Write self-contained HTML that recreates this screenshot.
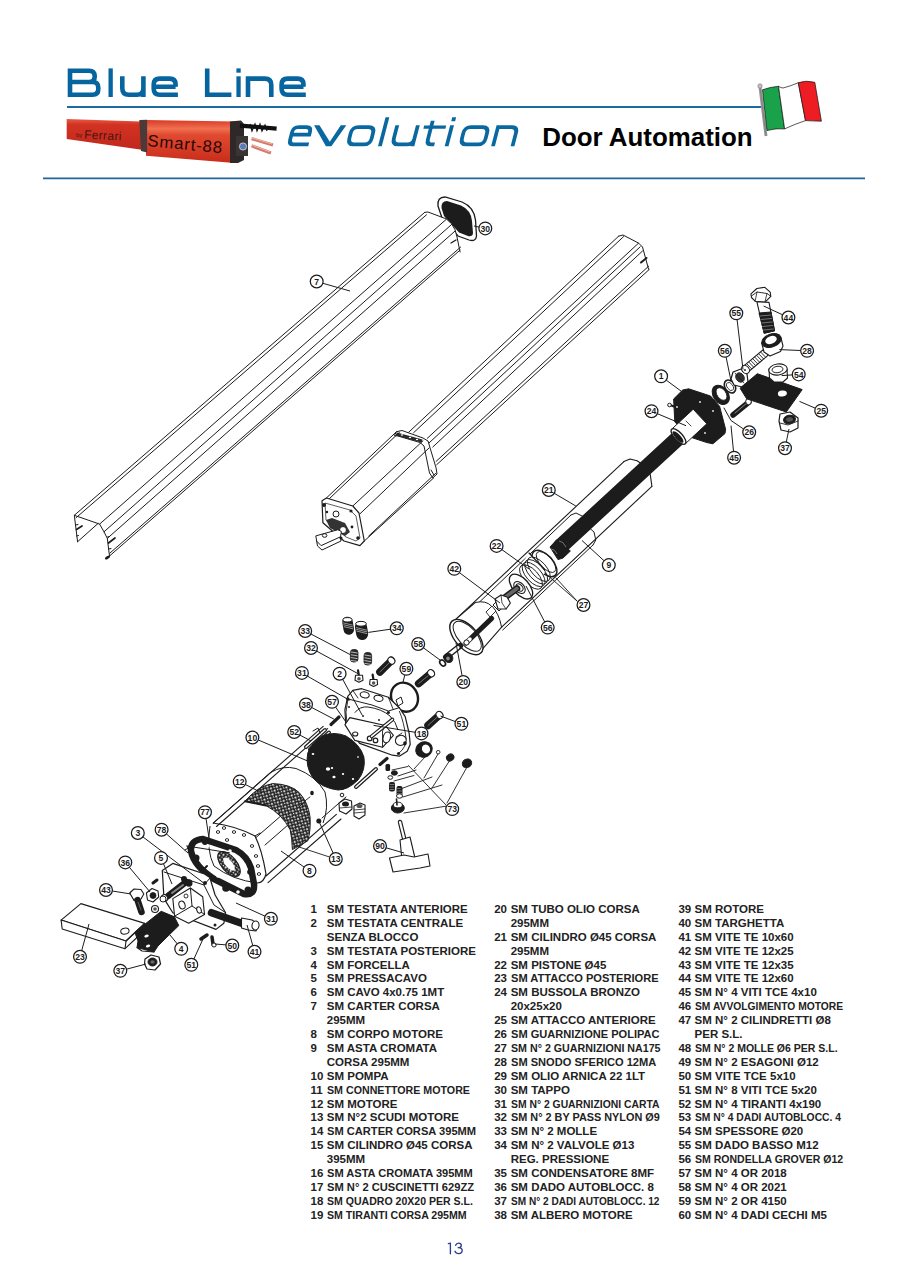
<!DOCTYPE html>
<html><head><meta charset="utf-8">
<style>
html,body{margin:0;padding:0;background:#fff;}
body{width:909px;height:1286px;position:relative;overflow:hidden;font-family:"Liberation Sans",sans-serif;}
.a{position:absolute;}
.n,.t{position:absolute;font-weight:bold;font-size:11.5px;line-height:14px;color:#222;white-space:pre;}
.t span{display:inline-block;transform-origin:0 50%;}
svg{position:absolute;left:0;top:0;}
svg text{font-family:"Liberation Sans",sans-serif;fill:#1c1c1c;}
</style></head><body>
<svg width="909" height="1286" viewBox="0 0 909 1286">

<g fill="none" stroke="#06659e" stroke-width="4.6" stroke-linejoin="miter" stroke-linecap="butt">
<path d="M70,70.7 H89 Q94.7,70.7 94.7,76.2 V76.5 Q94.7,82 89,82 H92.6 Q98.3,82 98.3,87.7 V89 Q98.3,94.7 92.6,94.7 H70 Z M70,82 H89"/>
<path d="M110.65,68.4 V97" stroke-width="4.3"/>
<path d="M122.3,76.3 V88.2 Q122.3,94.7 128.8,94.7 H136.9 Q143.4,94.7 143.4,88.2 M143.4,76.3 V97"/>
<path d="M175.6,86.7 H153.7 M175.6,86.7 V84.4 Q175.6,78.6 169.6,78.6 H159.7 Q153.7,78.6 153.7,84.6 V88.7 Q153.7,94.7 159.7,94.7 H177.9"/>
<path d="M207.2,68.4 V94.7 H231.4"/>
<path d="M238.55,76.3 V97" stroke-width="4.3"/>
<path d="M248,97 V78.6 H264.8 Q271.3,78.6 271.3,85.1 V97"/>
<path d="M 303.5,86.7 H 281.6 M 303.5,86.7 V 84.4 Q 303.5,78.6 297.5,78.6 H 287.6 Q 281.6,78.6 281.6,84.6 V 88.7 Q 281.6,94.7 287.6,94.7 H 305.8"/>
</g>
<rect x="236.4" y="68.4" width="4.3" height="4.3" fill="#06659e"/>
<line x1="67" y1="107" x2="762" y2="107" stroke="#1d6aa0" stroke-width="1.8"/>
<g transform="matrix(1,0,-0.26,1,38.04,0)" fill="none" stroke="#0a68a0" stroke-width="3.8" stroke-linejoin="miter" stroke-linecap="butt">
<path d="M306.3,134.7 H288.4 M306.3,136.6 V132.1 Q306.3,127.1 301.3,127.1 H293.4 Q288.4,127.1 288.4,132.1 V139.4 Q288.4,144.4 293.4,144.4 H308.2" />
<polygon points="308.6,125.2 314,125.2 328.6,141.8 335.3,125.2 340.8,125.2 331.4,146.3 325.9,146.3" fill="#0a68a0" stroke="none"/>
<path d="M353.3,127.1 H363.6 Q369.6,127.1 369.6,133.1 V138.4 Q369.6,144.4 363.6,144.4 H353.3 Q347.3,144.4 347.3,138.4 V133.1 Q347.3,127.1 353.3,127.1 Z"/>
<path d="M379.9,117.3 V146.3"/>
<path d="M391.8,125.2 V138.4 Q391.8,144.4 397.8,144.4 H406.4 Q412.4,144.4 412.4,138.4 M412.4,125.2 V146.3"/>
<path d="M426.1,120.8 V139.4 Q426.1,144.4 431.1,144.4 H434"/>
<path d="M418.8,127.15 H440.8" stroke-width="3.1"/>
<path d="M446.6,125.2 V146.3"/>
<rect x="444.7" y="117.3" width="3.9" height="3.9" fill="#0a68a0" stroke="none"/>
<path d="M465.9,127.1 H477.6 Q483.6,127.1 483.6,133.1 V138.4 Q483.6,144.4 477.6,144.4 H465.9 Q459.9,144.4 459.9,138.4 V133.1 Q459.9,127.1 465.9,127.1 Z"/>
<path d="M493,146.3 V127.1 H506.5 Q512.5,127.1 512.5,133.1 V146.3"/>
</g>
<text x="542.2" y="145.8" font-size="25.9" font-weight="bold" style="fill:#000">Door Automation</text>
<line x1="43" y1="178.4" x2="865" y2="178.4" stroke="#1f679a" stroke-width="1.6"/>
<!-- product photo -->
<defs>
<linearGradient id="rg1" x1="0" y1="0" x2="0" y2="1"><stop offset="0" stop-color="#e85a48"/><stop offset="0.18" stop-color="#d23222"/><stop offset="1" stop-color="#c0281c"/></linearGradient>
<linearGradient id="rg2" x1="0" y1="0" x2="0" y2="1"><stop offset="0" stop-color="#d83a26"/><stop offset="0.2" stop-color="#f07050"/><stop offset="0.35" stop-color="#e04a30"/><stop offset="1" stop-color="#c82c1a"/></linearGradient>
</defs>
<polygon points="66.7,119.1 141.1,121.5 143.5,150 66.7,139" fill="url(#rg1)"/>
<polygon points="146,120 234.4,121.4 234.4,163 146,155.8" fill="url(#rg2)"/>
<polygon points="139.3,120 147.1,119.7 147.1,152.4 141,151" fill="#4a3a3a"/>
<polygon points="230,121.4 241,120.5 244,124 244,160 238,163 230,163" fill="#2e2828"/>
<rect x="236" y="136" width="12" height="20" fill="#3a3434"/>
<circle cx="243" cy="146.5" r="3.6" fill="#5a7ab8" stroke="#ddd" stroke-width="0.8"/>
<text x="84" y="138.5" font-size="12" style="fill:#4a1410;font-family:'Liberation Sans';letter-spacing:0.3px" transform="rotate(3 84 138.5)">Ferrari</text>
<text x="76" y="137" font-size="6" style="fill:#4a1410">by</text>
<text x="147" y="146" font-size="16.5" style="fill:#2a0806;letter-spacing:0.8px" transform="rotate(5.5 147 146) translate(147 0) scale(1.02 1) translate(-147 0)">Smart-88</text>
<polyline points="240,125.7 258,127 276.6,128.6" fill="none" stroke="#111" stroke-width="4.2"/>
<polyline points="250,124 252,131 255,124 257,131 260,124 262,131 265,125 267,131" fill="none" stroke="#111" stroke-width="1.2"/>
<line x1="251.6" y1="138.6" x2="273" y2="145" stroke="#d4786a" stroke-width="3.2"/>
<line x1="251.6" y1="145.8" x2="270.9" y2="153" stroke="#d4786a" stroke-width="3.2"/>
<line x1="252" y1="138" x2="272" y2="144" stroke="#f0c0b0" stroke-width="0.9"/>
<line x1="252" y1="145.2" x2="270" y2="152" stroke="#f0c0b0" stroke-width="0.9"/>
<!-- flag -->
<line x1="760" y1="87" x2="766" y2="136" stroke="#9a9a9a" stroke-width="3"/>
<line x1="760" y1="87" x2="766" y2="136" stroke="#666" stroke-width="0.5" stroke-dasharray="0"/>
<circle cx="760" cy="86" r="2.2" fill="#c0c0c0" stroke="#777" stroke-width="0.6"/>
<path d="M762.5,89.8 Q770,87 778.5,86.3 L784.6,128.9 Q776,128 767,130.5 Z" fill="#1aa24a" stroke="#111" stroke-width="0.7"/>
<path d="M778.5,86.3 Q781,88 783,88 Q791,86 798.3,82.7 L805.5,120.6 Q795,124 784.6,128.9 Z" fill="#fff" stroke="#111" stroke-width="0.7"/>
<path d="M798.3,82.7 Q806,80 814.8,82.3 L821.4,121.2 Q812,121 805.5,120.6 Z" fill="#ee1d24" stroke="#111" stroke-width="0.7"/>

<g>
<path d="M438,206 Q437,197 445,197 L462,202 Q474,207 475.5,220 L476.5,236 Q476,242 469,240 L458,236 L442,218 Z" fill="#fff" stroke="#1c1c1c" stroke-width="1.3"/>
<path d="M441.5,208 Q441,201 447,201 L461,205.5 Q471,210 472,221 L473,233 Q472.5,237 468,236 L459,232.5 L444,216 Z" fill="#1c1c1c" stroke="none"/>
<polygon points="424.8,212.8 428.0,212.3 446.3,218.9 451.6,223.8 455.1,229.9 457.0,237.0 459.5,249.3 460.0,253.0 420.0,290.0 380.0,280.0" fill="#fff" stroke="none" stroke-width="1.0" stroke-linejoin="round"/>
<polyline points="74.3,515.3 424.7,212.4" fill="none" stroke="#1c1c1c" stroke-width="1.0" stroke-linejoin="round" stroke-linecap="round"/>
<polyline points="76.1,517.7 426.5,214.8" fill="none" stroke="#1c1c1c" stroke-width="1.0" stroke-linejoin="round" stroke-linecap="round"/>
<polyline points="99.6,524.1 446.3,219.3" fill="none" stroke="#1c1c1c" stroke-width="1.0" stroke-linejoin="round" stroke-linecap="round"/>
<polyline points="104.0,531.8 451.6,224.5" fill="none" stroke="#1c1c1c" stroke-width="1.0" stroke-linejoin="round" stroke-linecap="round"/>
<polyline points="107.3,538.4 455.1,231.0" fill="none" stroke="#1c1c1c" stroke-width="1.0" stroke-linejoin="round" stroke-linecap="round"/>
<polyline points="109.5,556.0 460.1,250.1" fill="none" stroke="#1c1c1c" stroke-width="1.0" stroke-linejoin="round" stroke-linecap="round"/>
<polyline points="110.0,553.0 460.6,247.1" fill="none" stroke="#1c1c1c" stroke-width="1.0" stroke-linejoin="round" stroke-linecap="round"/>
<polyline points="77.6,541.7 74.3,515.3 99.6,524.1 104.0,531.8 107.3,538.4 109.5,556.0" fill="none" stroke="#1c1c1c" stroke-width="1.0" stroke-linejoin="round" stroke-linecap="round"/>
<polyline points="77.6,541.7 98.0,523.5" fill="none" stroke="#1c1c1c" stroke-width="1.0" stroke-linejoin="round" stroke-linecap="round"/>
<polyline points="76.5,529.5 82.0,526.0" fill="none" stroke="#1c1c1c" stroke-width="1.7" stroke-linejoin="round" stroke-linecap="round"/>
<polyline points="75.5,525.0 78.0,524.5" fill="none" stroke="#1c1c1c" stroke-width="1" stroke-linejoin="round" stroke-linecap="round"/>
<polyline points="76.5,536.0 78.5,535.5" fill="none" stroke="#1c1c1c" stroke-width="1" stroke-linejoin="round" stroke-linecap="round"/>
<polyline points="108.5,543.0 115.0,538.0" fill="none" stroke="#1c1c1c" stroke-width="1.7" stroke-linejoin="round" stroke-linecap="round"/>
<polyline points="107.5,537.0 109.5,536.5" fill="none" stroke="#1c1c1c" stroke-width="1" stroke-linejoin="round" stroke-linecap="round"/>
<polyline points="108.5,549.0 111.0,548.5" fill="none" stroke="#1c1c1c" stroke-width="1" stroke-linejoin="round" stroke-linecap="round"/>
<ellipse cx="107.5" cy="557.5" rx="3.0" ry="1.3" transform="rotate(-30 107.5 557.5)" fill="#1c1c1c" stroke="none" stroke-width="1.0"/>
<polyline points="424.7,212.4 428.0,212.0 446.3,218.9 451.6,223.8 455.1,229.9 457.0,237.0 459.5,249.3 460.1,252.0" fill="none" stroke="#1c1c1c" stroke-width="1.0" stroke-linejoin="round" stroke-linecap="round"/>
<polyline points="451.0,243.0 456.0,240.0" fill="none" stroke="#1c1c1c" stroke-width="1.4" stroke-linejoin="round" stroke-linecap="round"/>
<polyline points="618.6,236.2 408.6,432.3" fill="none" stroke="#1c1c1c" stroke-width="1.0" stroke-linejoin="round" stroke-linecap="round"/>
<polyline points="623.6,236.6 413.6,432.7" fill="none" stroke="#1c1c1c" stroke-width="1.0" stroke-linejoin="round" stroke-linecap="round"/>
<polyline points="638.6,243.1 427.3,438.3" fill="none" stroke="#1c1c1c" stroke-width="1.0" stroke-linejoin="round" stroke-linecap="round"/>
<polyline points="640.2,246.8 429.0,443.0" fill="none" stroke="#1c1c1c" stroke-width="1.0" stroke-linejoin="round" stroke-linecap="round"/>
<polyline points="642.5,251.0 432.8,447.0" fill="none" stroke="#1c1c1c" stroke-width="1.0" stroke-linejoin="round" stroke-linecap="round"/>
<polyline points="648.6,266.2 436.1,461.4" fill="none" stroke="#1c1c1c" stroke-width="1.0" stroke-linejoin="round" stroke-linecap="round"/>
<polyline points="649.2,269.5 436.7,464.7" fill="none" stroke="#1c1c1c" stroke-width="1.0" stroke-linejoin="round" stroke-linecap="round"/>
<polyline points="618.6,236.2 623.0,235.0 638.6,243.1 642.5,247.0 648.6,269.3" fill="none" stroke="#1c1c1c" stroke-width="1.0" stroke-linejoin="round" stroke-linecap="round"/>
<polyline points="641.0,262.5 646.5,258.0" fill="none" stroke="#1c1c1c" stroke-width="2" stroke-linejoin="round" stroke-linecap="round"/>
<polygon points="396.5,431.7 402.0,430.5 423.0,438.0 428.0,441.0 436.1,468.0 437.0,474.0 432.8,477.9 429.5,473.0 424.0,446.0 420.0,442.5 398.0,436.0 394.3,435.6" fill="#fff" stroke="#1c1c1c" stroke-width="1.0" stroke-linejoin="round"/>
<polygon points="397.0,432.5 422.5,439.5 421.5,442.6 395.5,435.5" fill="#2a2a2a" stroke="none" stroke-width="1.0" stroke-linejoin="round"/>
<ellipse cx="402.0" cy="435.0" rx="1.2" ry="0.8" transform="rotate(0 402.0 435.0)" fill="#fff" stroke="none" stroke-width="1.0"/>
<ellipse cx="410.0" cy="437.5" rx="1.2" ry="0.8" transform="rotate(0 410.0 437.5)" fill="#fff" stroke="none" stroke-width="1.0"/>
<ellipse cx="417.0" cy="439.5" rx="1.2" ry="0.8" transform="rotate(0 417.0 439.5)" fill="#fff" stroke="none" stroke-width="1.0"/>
<polyline points="431.0,470.0 434.0,475.0" fill="none" stroke="#1c1c1c" stroke-width="1.0" stroke-linejoin="round" stroke-linecap="round"/>
<polyline points="326.4,498.0 396.5,431.7" fill="none" stroke="#1c1c1c" stroke-width="1.0" stroke-linejoin="round" stroke-linecap="round"/>
<polyline points="329.4,498.6 399.5,432.3" fill="none" stroke="#1c1c1c" stroke-width="1.0" stroke-linejoin="round" stroke-linecap="round"/>
<polyline points="352.8,506.0 423.0,440.8" fill="none" stroke="#1c1c1c" stroke-width="1.0" stroke-linejoin="round" stroke-linecap="round"/>
<polyline points="359.9,513.9 429.0,448.0" fill="none" stroke="#1c1c1c" stroke-width="1.0" stroke-linejoin="round" stroke-linecap="round"/>
<polyline points="364.3,541.0 433.8,477.8" fill="none" stroke="#1c1c1c" stroke-width="1.0" stroke-linejoin="round" stroke-linecap="round"/>
<polyline points="368.7,536.0 435.6,473.4" fill="none" stroke="#1c1c1c" stroke-width="1.0" stroke-linejoin="round" stroke-linecap="round"/>
<polygon points="322.0,500.7 326.4,498.0 352.8,506.0 359.0,513.0 364.3,541.0 359.9,545.6 344.0,541.0 322.9,522.7" fill="#fff" stroke="#1c1c1c" stroke-width="1.2" stroke-linejoin="round"/>
<polygon points="325.0,503.0 350.0,510.0 356.0,516.0 360.0,538.0 356.0,541.0 346.0,537.0 326.0,520.0" fill="#fff" stroke="#333" stroke-width="0.8" stroke-linejoin="round"/>
<ellipse cx="336.0" cy="514.0" rx="3.0" ry="3.0" transform="rotate(0 336.0 514.0)" fill="#fff" stroke="#1c1c1c" stroke-width="1.0"/>
<polygon points="326.0,520.0 332.0,518.0 345.0,523.0 350.0,532.0 345.0,536.0 330.0,528.0" fill="#333" stroke="none" stroke-width="1.0" stroke-linejoin="round"/>
<ellipse cx="324.0" cy="505.0" rx="2.0" ry="2.0" transform="rotate(0 324.0 505.0)" fill="#1c1c1c" stroke="none" stroke-width="1.0"/>
<ellipse cx="351.0" cy="511.0" rx="1.6" ry="1.6" transform="rotate(0 351.0 511.0)" fill="#1c1c1c" stroke="none" stroke-width="1.0"/>
<ellipse cx="358.0" cy="538.0" rx="1.8" ry="1.8" transform="rotate(0 358.0 538.0)" fill="#1c1c1c" stroke="none" stroke-width="1.0"/>
<ellipse cx="341.0" cy="538.0" rx="1.5" ry="1.5" transform="rotate(0 341.0 538.0)" fill="#1c1c1c" stroke="none" stroke-width="1.0"/>
<ellipse cx="327.0" cy="512.0" rx="1.2" ry="1.2" transform="rotate(0 327.0 512.0)" fill="#1c1c1c" stroke="none" stroke-width="1.0"/>
<ellipse cx="352.0" cy="527.0" rx="1.4" ry="1.4" transform="rotate(0 352.0 527.0)" fill="#1c1c1c" stroke="none" stroke-width="1.0"/>
<ellipse cx="343.0" cy="530.0" rx="3.5" ry="3.5" transform="rotate(0 343.0 530.0)" fill="#fff" stroke="#1c1c1c" stroke-width="1.0"/>
<polygon points="316.7,541.2 315.8,535.9 337.9,529.7 341.4,531.5 340.5,536.8 321.1,545.6" fill="#fff" stroke="#1c1c1c" stroke-width="1.0" stroke-linejoin="round"/>
<polyline points="316.7,541.2 317.5,546.0 322.0,550.0 341.0,541.0 340.5,536.8" fill="none" stroke="#1c1c1c" stroke-width="1.0" stroke-linejoin="round" stroke-linecap="round"/>
<ellipse cx="324.6" cy="535.5" rx="2.3" ry="1.8" transform="rotate(0 324.6 535.5)" fill="#fff" stroke="#1c1c1c" stroke-width="1.0"/>
<polyline points="454.3,620.6 623.9,461.6" fill="none" stroke="#1c1c1c" stroke-width="1.1" stroke-linejoin="round" stroke-linecap="round"/>
<polyline points="623.9,461.6 630.0,459.0 637.0,460.7 645.0,466.0 650.3,474.8 651.9,486.3" fill="none" stroke="#1c1c1c" stroke-width="1.1" stroke-linejoin="round" stroke-linecap="round"/>
<polyline points="651.9,486.3 501.6,627.2" fill="none" stroke="#1c1c1c" stroke-width="1.1" stroke-linejoin="round" stroke-linecap="round"/>
<polyline points="479.6,601.9 571.0,515.0" fill="none" stroke="#1c1c1c" stroke-width="1.0" stroke-linejoin="round" stroke-linecap="round"/>
<polyline points="502.7,630.0 593.0,545.0" fill="none" stroke="#1c1c1c" stroke-width="1.0" stroke-linejoin="round" stroke-linecap="round"/>
<polyline points="571.0,515.0 576.0,513.0 584.0,517.0" fill="none" stroke="#1c1c1c" stroke-width="1.0" stroke-linejoin="round" stroke-linecap="round"/>
<polyline points="589.0,527.6 594.0,532.0 595.8,540.0 593.0,545.0" fill="none" stroke="#1c1c1c" stroke-width="1.0" stroke-linejoin="round" stroke-linecap="round"/>
<polygon points="454.3,620.6 475.2,602.5 482.0,602.0 491.7,606.3 500.5,621.7 501.6,627.2 482.4,649.2" fill="#fff" stroke="none" stroke-width="1.0" stroke-linejoin="round"/>
<polyline points="454.3,620.6 475.2,602.5" fill="none" stroke="#1c1c1c" stroke-width="1.1" stroke-linejoin="round" stroke-linecap="round"/>
<path d="M475.2,602.5 Q486,600 491.7,606.3 Q499,613 501.6,627.2" fill="none" stroke="#1c1c1c" stroke-width="1.0"/>
<polyline points="482.4,649.2 501.6,627.2" fill="none" stroke="#1c1c1c" stroke-width="1.1" stroke-linejoin="round" stroke-linecap="round"/>
<ellipse cx="466.4" cy="637.1" rx="21.5" ry="11.2" transform="rotate(48 466.4 637.1)" fill="#fff" stroke="#1c1c1c" stroke-width="1.4"/>
<ellipse cx="467.2" cy="636.3" rx="18.5" ry="9.0" transform="rotate(48 467.2 636.3)" fill="#fff" stroke="#1c1c1c" stroke-width="1.0"/>
<polyline points="466.0,643.0 491.7,618.4" fill="none" stroke="#1c1c1c" stroke-width="5" stroke-linejoin="round" stroke-linecap="round"/>
<polyline points="466.0,643.0 470.0,639.0" fill="none" stroke="#fff" stroke-width="3.5" stroke-linejoin="round" stroke-linecap="round"/>
<polygon points="486.0,612.0 492.0,606.0 496.0,611.0 490.0,617.0" fill="#fff" stroke="#1c1c1c" stroke-width="0.9" stroke-linejoin="round"/>
<polygon points="493.0,605.0 497.0,601.0 503.0,607.0 499.0,611.0" fill="#fff" stroke="#1c1c1c" stroke-width="1.0" stroke-linejoin="round"/>
<ellipse cx="466.5" cy="642.5" rx="2.6" ry="2.6" transform="rotate(0 466.5 642.5)" fill="#fff" stroke="#1c1c1c" stroke-width="1.0"/>
<polyline points="446.0,657.0 460.0,646.0" fill="none" stroke="#1c1c1c" stroke-width="6" stroke-linejoin="round" stroke-linecap="round"/>
<polyline points="448.0,655.5 458.0,647.5" fill="none" stroke="#fff" stroke-width="3" stroke-linejoin="round" stroke-linecap="round"/>
<ellipse cx="448.5" cy="658.0" rx="4.2" ry="4.6" transform="rotate(-40 448.5 658.0)" fill="#1c1c1c" stroke="#1c1c1c" stroke-width="1"/>
<ellipse cx="448.0" cy="658.5" rx="1.8" ry="2.0" transform="rotate(0 448.0 658.5)" fill="#888" stroke="none" stroke-width="1.0"/>
<ellipse cx="442.6" cy="663.0" rx="2.4" ry="3.4" transform="rotate(-40 442.6 663.0)" fill="none" stroke="#1c1c1c" stroke-width="1.6"/>
<ellipse cx="544.5" cy="563.5" rx="16.0" ry="8.5" transform="rotate(48 544.5 563.5)" fill="#fff" stroke="#1c1c1c" stroke-width="1.4"/>
<ellipse cx="546.0" cy="562.0" rx="13.0" ry="6.0" transform="rotate(48 546.0 562.0)" fill="none" stroke="#1c1c1c" stroke-width="0.9"/>
<polygon points="529.0,553.0 545.0,572.0 530.0,597.0 511.0,580.0" fill="#fff" stroke="none" stroke-width="1.0" stroke-linejoin="round"/>
<polyline points="529.0,553.0 545.0,570.0" fill="none" stroke="#1c1c1c" stroke-width="1.1" stroke-linejoin="round" stroke-linecap="round"/>
<polyline points="511.0,579.0 527.0,596.0" fill="none" stroke="#1c1c1c" stroke-width="1.1" stroke-linejoin="round" stroke-linecap="round"/>
<ellipse cx="531.0" cy="577.0" rx="15.0" ry="7.5" transform="rotate(48 531.0 577.0)" fill="none" stroke="#1c1c1c" stroke-width="0.9"/>
<ellipse cx="533.6" cy="574.4" rx="15.0" ry="7.5" transform="rotate(48 533.6 574.4)" fill="none" stroke="#1c1c1c" stroke-width="0.9"/>
<ellipse cx="536.2" cy="571.8" rx="15.0" ry="7.5" transform="rotate(48 536.2 571.8)" fill="none" stroke="#1c1c1c" stroke-width="0.9"/>
<ellipse cx="538.8" cy="569.2" rx="15.0" ry="7.5" transform="rotate(48 538.8 569.2)" fill="none" stroke="#1c1c1c" stroke-width="0.9"/>
<ellipse cx="521.0" cy="586.6" rx="15.0" ry="8.0" transform="rotate(48 521.0 586.6)" fill="#fff" stroke="#1c1c1c" stroke-width="1.3"/>
<ellipse cx="519.5" cy="587.5" rx="7.0" ry="4.5" transform="rotate(48 519.5 587.5)" fill="#fff" stroke="#1c1c1c" stroke-width="1.1"/>
<ellipse cx="519.5" cy="587.5" rx="4.2" ry="2.8" transform="rotate(48 519.5 587.5)" fill="#fff" stroke="#1c1c1c" stroke-width="1.0"/>
<polyline points="500.0,601.0 517.0,588.5" fill="none" stroke="#1c1c1c" stroke-width="6.5" stroke-linejoin="round" stroke-linecap="round"/>
<polyline points="500.0,601.0 517.0,588.5" fill="none" stroke="#666" stroke-width="3.5" stroke-linejoin="round" stroke-linecap="round"/>
<polygon points="495.0,599.0 501.0,595.0 507.0,597.0 510.4,603.0 506.0,609.0 498.0,609.0" fill="#fff" stroke="#1c1c1c" stroke-width="1.1" stroke-linejoin="round"/>
<polyline points="501.0,595.0 502.0,603.0 506.0,609.0" fill="none" stroke="#1c1c1c" stroke-width="0.8" stroke-linejoin="round" stroke-linecap="round"/>
<polyline points="561.0,546.0 686.3,430.5" fill="none" stroke="#1c1c1c" stroke-width="15.5" stroke-linejoin="round" stroke-linecap="round"/>
<polygon points="550.0,547.0 557.0,539.5 563.0,545.0 570.4,551.0 563.0,558.0 558.0,559.6" fill="#1c1c1c" stroke="#1c1c1c" stroke-width="1.0" stroke-linejoin="round"/>
<path d="M551,549 Q555,549 557,554" fill="none" stroke="#999" stroke-width="0.7"/>
<path d="M559,541 Q563,541 566,547" fill="none" stroke="#999" stroke-width="0.7"/>
<polygon points="673.6,399.0 682.7,390.0 688.7,388.8 710.5,396.0 719.6,406.3 725.6,429.3 725.0,433.5 712.9,443.8 706.9,442.6 692.4,437.8 674.8,422.0" fill="#1c1c1c" stroke="#1c1c1c" stroke-width="1.0" stroke-linejoin="round"/>
<polyline points="670.0,405.0 678.0,408.0" fill="none" stroke="#1c1c1c" stroke-width="2.0" stroke-linejoin="round" stroke-linecap="round"/>
<ellipse cx="669.5" cy="405.0" rx="1.8" ry="1.8" transform="rotate(0 669.5 405.0)" fill="#fff" stroke="#1c1c1c" stroke-width="1.0"/>
<polygon points="685.3,443.8 706.8,423.8 693.2,409.2 671.7,429.2" fill="#fff" stroke="#1c1c1c" stroke-width="1.0" stroke-linejoin="round"/>
<ellipse cx="678.5" cy="436.5" rx="4.0" ry="10.0" transform="rotate(-43 678.5 436.5)" fill="#fff" stroke="#1c1c1c" stroke-width="1.3"/>
<ellipse cx="678.0" cy="437.0" rx="2.6" ry="7.6" transform="rotate(-43 678.0 437.0)" fill="#1c1c1c" stroke="none" stroke-width="1.0"/>
<polyline points="686.0,421.0 691.0,426.0" fill="none" stroke="#1c1c1c" stroke-width="0.8" stroke-linejoin="round" stroke-linecap="round"/>
<ellipse cx="700.0" cy="402.0" rx="0.9" ry="0.9" transform="rotate(0 700.0 402.0)" fill="#eee" stroke="none" stroke-width="1.0"/>
<ellipse cx="713.0" cy="411.0" rx="0.9" ry="0.9" transform="rotate(0 713.0 411.0)" fill="#eee" stroke="none" stroke-width="1.0"/>
<ellipse cx="705.0" cy="433.0" rx="0.9" ry="0.9" transform="rotate(0 705.0 433.0)" fill="#eee" stroke="none" stroke-width="1.0"/>
<ellipse cx="677.0" cy="407.0" rx="0.9" ry="0.9" transform="rotate(0 677.0 407.0)" fill="#eee" stroke="none" stroke-width="1.0"/>
<ellipse cx="720.8" cy="394.8" rx="7.5" ry="10.5" transform="rotate(-35 720.8 394.8)" fill="#1c1c1c" stroke="#1c1c1c" stroke-width="1"/>
<ellipse cx="721.5" cy="394.0" rx="4.5" ry="7.0" transform="rotate(-35 721.5 394.0)" fill="#fff" stroke="#1c1c1c" stroke-width="0.8"/>
<ellipse cx="730.0" cy="386.5" rx="5.0" ry="7.0" transform="rotate(-35 730.0 386.5)" fill="#fff" stroke="#1c1c1c" stroke-width="1.6"/>
<ellipse cx="730.0" cy="386.5" rx="2.8" ry="4.5" transform="rotate(-35 730.0 386.5)" fill="#fff" stroke="#1c1c1c" stroke-width="0.8"/>
<polygon points="733.0,372.0 741.0,369.0 747.0,374.0 748.0,382.0 742.0,387.0 734.0,385.0 731.0,379.0" fill="#fff" stroke="#1c1c1c" stroke-width="1.2" stroke-linejoin="round"/>
<ellipse cx="740.0" cy="377.5" rx="4.0" ry="5.0" transform="rotate(-35 740.0 377.5)" fill="#333" stroke="#1c1c1c" stroke-width="0.8"/>
<polyline points="735.0,373.0 744.0,383.0" fill="none" stroke="#1c1c1c" stroke-width="0.8" stroke-linejoin="round" stroke-linecap="round"/>
<polyline points="733.0,415.0 749.0,402.0" fill="none" stroke="#1c1c1c" stroke-width="5.5" stroke-linejoin="round" stroke-linecap="round"/>
<polyline points="735.0,413.0 747.0,403.0" fill="none" stroke="#888" stroke-width="1" stroke-linejoin="round" stroke-linecap="round"/>
<ellipse cx="748.5" cy="401.5" rx="2.8" ry="3.2" transform="rotate(0 748.5 401.5)" fill="#fff" stroke="#1c1c1c" stroke-width="1"/>
<polygon points="740.1,388.2 757.3,373.7 802.2,389.6 786.3,412.0 746.7,398.8" fill="#1c1c1c" stroke="#1c1c1c" stroke-width="1.0" stroke-linejoin="round"/>
<ellipse cx="782.4" cy="393.5" rx="4.5" ry="3.0" transform="rotate(-5 782.4 393.5)" fill="#fff" stroke="none" stroke-width="1.0"/>
<polyline points="746.0,369.0 765.0,353.0" fill="none" stroke="#1c1c1c" stroke-width="8.5" stroke-linejoin="round" stroke-linecap="round"/>
<polyline points="746.5,368.5 764.5,353.5" fill="none" stroke="#fff" stroke-width="6.3" stroke-linejoin="round" stroke-linecap="round"/>
<polyline points="744.8,365.4 749.6,370.4" fill="none" stroke="#1c1c1c" stroke-width="0.9" stroke-linejoin="round" stroke-linecap="round"/>
<polyline points="746.8,363.8 751.6,368.8" fill="none" stroke="#1c1c1c" stroke-width="0.9" stroke-linejoin="round" stroke-linecap="round"/>
<polyline points="748.8,362.1 753.6,367.1" fill="none" stroke="#1c1c1c" stroke-width="0.9" stroke-linejoin="round" stroke-linecap="round"/>
<polyline points="750.8,360.5 755.6,365.5" fill="none" stroke="#1c1c1c" stroke-width="0.9" stroke-linejoin="round" stroke-linecap="round"/>
<polyline points="752.8,358.8 757.6,363.8" fill="none" stroke="#1c1c1c" stroke-width="0.9" stroke-linejoin="round" stroke-linecap="round"/>
<polyline points="754.8,357.2 759.6,362.2" fill="none" stroke="#1c1c1c" stroke-width="0.9" stroke-linejoin="round" stroke-linecap="round"/>
<polyline points="756.8,355.5 761.6,360.5" fill="none" stroke="#1c1c1c" stroke-width="0.9" stroke-linejoin="round" stroke-linecap="round"/>
<polyline points="758.8,353.9 763.6,358.9" fill="none" stroke="#1c1c1c" stroke-width="0.9" stroke-linejoin="round" stroke-linecap="round"/>
<polyline points="760.8,352.2 765.6,357.2" fill="none" stroke="#1c1c1c" stroke-width="0.9" stroke-linejoin="round" stroke-linecap="round"/>
<ellipse cx="745.5" cy="369.5" rx="3.5" ry="4.5" transform="rotate(-40 745.5 369.5)" fill="#fff" stroke="#1c1c1c" stroke-width="1.1"/>
<ellipse cx="745.0" cy="370.0" rx="0.9" ry="0.9" transform="rotate(0 745.0 370.0)" fill="#111" stroke="none" stroke-width="1.0"/>
<polygon points="761.7,343.0 764.0,352.0 770.0,356.0 780.5,351.4 783.0,346.0 781.0,338.0 770.0,335.0" fill="#fff" stroke="#1c1c1c" stroke-width="1.1" stroke-linejoin="round"/>
<ellipse cx="771.5" cy="340.5" rx="10.0" ry="6.5" transform="rotate(-20 771.5 340.5)" fill="#1c1c1c" stroke="#1c1c1c" stroke-width="1"/>
<ellipse cx="771.0" cy="340.0" rx="6.0" ry="3.8" transform="rotate(-20 771.0 340.0)" fill="#fff" stroke="none" stroke-width="1.0"/>
<polygon points="750.9,293.9 756.9,288.5 764.8,287.3 770.2,292.1 770.8,296.3 764.8,302.4 755.1,301.2 751.5,297.5" fill="#fff" stroke="#1c1c1c" stroke-width="1.1" stroke-linejoin="round"/>
<polyline points="751.5,296.0 757.0,292.0 767.0,293.5 770.8,296.3" fill="none" stroke="#1c1c1c" stroke-width="0.9" stroke-linejoin="round" stroke-linecap="round"/>
<polyline points="757.0,292.0 755.1,301.2" fill="none" stroke="#1c1c1c" stroke-width="0.8" stroke-linejoin="round" stroke-linecap="round"/>
<polyline points="767.0,293.5 764.8,302.4" fill="none" stroke="#1c1c1c" stroke-width="0.8" stroke-linejoin="round" stroke-linecap="round"/>
<polygon points="756.9,301.8 769.0,302.4 774.5,330.8 764.2,333.2" fill="#fff" stroke="#1c1c1c" stroke-width="1.1" stroke-linejoin="round"/>
<polygon points="759.0,313.0 771.0,312.0 774.5,330.8 764.2,333.2" fill="#1c1c1c" stroke="#1c1c1c" stroke-width="1" stroke-linejoin="round"/>
<polyline points="760.0,316.0 771.0,315.0" fill="none" stroke="#999" stroke-width="0.7" stroke-linejoin="round" stroke-linecap="round"/>
<polyline points="760.9,319.5 771.6,318.5" fill="none" stroke="#999" stroke-width="0.7" stroke-linejoin="round" stroke-linecap="round"/>
<polyline points="761.8,323.0 772.2,322.0" fill="none" stroke="#999" stroke-width="0.7" stroke-linejoin="round" stroke-linecap="round"/>
<polyline points="762.7,326.5 772.8,325.5" fill="none" stroke="#999" stroke-width="0.7" stroke-linejoin="round" stroke-linecap="round"/>
<polyline points="763.6,330.0 773.4,329.0" fill="none" stroke="#999" stroke-width="0.7" stroke-linejoin="round" stroke-linecap="round"/>
<polygon points="769.0,369.0 769.5,378.0 774.0,382.0 783.0,382.0 787.5,378.0 787.0,369.0" fill="#fff" stroke="#1c1c1c" stroke-width="1.1" stroke-linejoin="round"/>
<ellipse cx="778.0" cy="369.5" rx="9.3" ry="5.5" transform="rotate(-8 778.0 369.5)" fill="#fff" stroke="#1c1c1c" stroke-width="1.1"/>
<ellipse cx="777.5" cy="369.5" rx="5.5" ry="3.2" transform="rotate(-8 777.5 369.5)" fill="#fff" stroke="#1c1c1c" stroke-width="0.9"/>
<polygon points="780.0,414.0 790.0,412.0 798.0,418.0 798.0,428.0 790.0,432.0 781.0,430.0 779.0,421.0" fill="#fff" stroke="#1c1c1c" stroke-width="1.2" stroke-linejoin="round"/>
<ellipse cx="789.5" cy="419.5" rx="6.0" ry="4.3" transform="rotate(-10 789.5 419.5)" fill="#1c1c1c" stroke="#1c1c1c" stroke-width="1"/>
<ellipse cx="789.5" cy="419.5" rx="3.5" ry="2.2" transform="rotate(-10 789.5 419.5)" fill="#555" stroke="none" stroke-width="1.0"/>
<polyline points="780.0,423.0 788.0,425.0 798.0,421.0" fill="none" stroke="#1c1c1c" stroke-width="0.9" stroke-linejoin="round" stroke-linecap="round"/>
<polyline points="743.5,429.0 731.0,420.5 724.0,408.0" fill="none" stroke="#1c1c1c" stroke-width="1.0" stroke-linejoin="round" stroke-linecap="round"/>
<polyline points="347.5,622.0 348.8,629.5" fill="none" stroke="#1c1c1c" stroke-width="10.5" stroke-linejoin="round" stroke-linecap="round"/>
<polyline points="347.5,622.0 348.8,629.5" fill="none" stroke="#1c1c1c" stroke-width="8.5" stroke-linejoin="round" stroke-linecap="round"/>
<line x1="343.1" y1="622.8" x2="352.6" y2="625.1" stroke="#ccc" stroke-width="0.7"/>
<line x1="343.4" y1="624.7" x2="352.9" y2="627.0" stroke="#ccc" stroke-width="0.7"/>
<line x1="343.8" y1="626.6" x2="353.2" y2="628.9" stroke="#ccc" stroke-width="0.7"/>
<ellipse cx="347.5" cy="619.8" rx="4.6" ry="2.2" transform="rotate(0 347.5 619.8)" fill="#fff" stroke="#1c1c1c" stroke-width="1"/>
<polyline points="361.0,627.0 362.2,634.0" fill="none" stroke="#1c1c1c" stroke-width="12" stroke-linejoin="round" stroke-linecap="round"/>
<polyline points="361.0,627.0 362.2,634.0" fill="none" stroke="#1c1c1c" stroke-width="10" stroke-linejoin="round" stroke-linecap="round"/>
<line x1="355.9" y1="627.5" x2="366.7" y2="630.2" stroke="#ccc" stroke-width="0.7"/>
<line x1="356.2" y1="629.3" x2="367.0" y2="631.9" stroke="#ccc" stroke-width="0.7"/>
<line x1="356.5" y1="631.0" x2="367.3" y2="633.7" stroke="#ccc" stroke-width="0.7"/>
<ellipse cx="361.0" cy="623.8" rx="5.4" ry="2.4" transform="rotate(0 361.0 623.8)" fill="#fff" stroke="#1c1c1c" stroke-width="1"/>
<rect x="350.4" y="649.5" width="7.6" height="12.5" rx="3" fill="#2a2a2a" stroke="#1c1c1c" stroke-width="0.8"/>
<polyline points="351.2,652.0 357.2,653.0" fill="none" stroke="#ddd" stroke-width="0.8" stroke-linejoin="round" stroke-linecap="round"/>
<polyline points="351.2,654.8 357.2,655.8" fill="none" stroke="#ddd" stroke-width="0.8" stroke-linejoin="round" stroke-linecap="round"/>
<polyline points="351.2,657.6 357.2,658.6" fill="none" stroke="#ddd" stroke-width="0.8" stroke-linejoin="round" stroke-linecap="round"/>
<polyline points="351.2,660.4 357.2,661.4" fill="none" stroke="#ddd" stroke-width="0.8" stroke-linejoin="round" stroke-linecap="round"/>
<rect x="364.0" y="652.5" width="7.6" height="12.5" rx="3" fill="#2a2a2a" stroke="#1c1c1c" stroke-width="0.8"/>
<polyline points="364.8,655.0 370.8,656.0" fill="none" stroke="#ddd" stroke-width="0.8" stroke-linejoin="round" stroke-linecap="round"/>
<polyline points="364.8,657.8 370.8,658.8" fill="none" stroke="#ddd" stroke-width="0.8" stroke-linejoin="round" stroke-linecap="round"/>
<polyline points="364.8,660.6 370.8,661.6" fill="none" stroke="#ddd" stroke-width="0.8" stroke-linejoin="round" stroke-linecap="round"/>
<polyline points="364.8,663.4 370.8,664.4" fill="none" stroke="#ddd" stroke-width="0.8" stroke-linejoin="round" stroke-linecap="round"/>
<polyline points="358.0,670.3 359.0,676.3" fill="none" stroke="#1c1c1c" stroke-width="2.2" stroke-linejoin="round" stroke-linecap="round"/>
<polygon points="355.5,675.3 362.5,675.3 363.0,680.3 359.0,682.3 355.0,680.3" fill="#fff" stroke="#1c1c1c" stroke-width="1.1" stroke-linejoin="round"/>
<ellipse cx="359.0" cy="678.8" rx="1.8" ry="1.8" transform="rotate(0 359.0 678.8)" fill="#555" stroke="none" stroke-width="1.0"/>
<polyline points="372.6,674.5 373.6,680.5" fill="none" stroke="#1c1c1c" stroke-width="2.2" stroke-linejoin="round" stroke-linecap="round"/>
<polygon points="370.1,679.5 377.1,679.5 377.6,684.5 373.6,686.5 369.6,684.5" fill="#fff" stroke="#1c1c1c" stroke-width="1.1" stroke-linejoin="round"/>
<ellipse cx="373.6" cy="683.0" rx="1.8" ry="1.8" transform="rotate(0 373.6 683.0)" fill="#555" stroke="none" stroke-width="1.0"/>
<polyline points="379.9,672.0 391.4,660.6" fill="none" stroke="#1c1c1c" stroke-width="7.5" stroke-linejoin="round" stroke-linecap="round"/>
<polyline points="379.9,672.0 391.4,660.6" fill="none" stroke="#777" stroke-width="1" stroke-linejoin="round" stroke-linecap="round"/>
<ellipse cx="391.4" cy="660.6" rx="3.1" ry="3.8" transform="rotate(-40 391.4 660.6)" fill="#fff" stroke="#1c1c1c" stroke-width="1.0"/>
<polyline points="418.6,683.6 431.1,673.2" fill="none" stroke="#1c1c1c" stroke-width="7.5" stroke-linejoin="round" stroke-linecap="round"/>
<polyline points="418.6,683.6 431.1,673.2" fill="none" stroke="#777" stroke-width="1" stroke-linejoin="round" stroke-linecap="round"/>
<ellipse cx="431.1" cy="673.2" rx="3.1" ry="3.8" transform="rotate(-40 431.1 673.2)" fill="#fff" stroke="#1c1c1c" stroke-width="1.0"/>
<polyline points="428.0,725.4 439.5,715.0" fill="none" stroke="#1c1c1c" stroke-width="7.5" stroke-linejoin="round" stroke-linecap="round"/>
<polyline points="428.0,725.4 439.5,715.0" fill="none" stroke="#777" stroke-width="1" stroke-linejoin="round" stroke-linecap="round"/>
<ellipse cx="439.5" cy="715.0" rx="3.1" ry="3.8" transform="rotate(-40 439.5 715.0)" fill="#fff" stroke="#1c1c1c" stroke-width="1.0"/>
<ellipse cx="404.5" cy="697.2" rx="13.0" ry="15.0" transform="rotate(-30 404.5 697.2)" fill="none" stroke="#1c1c1c" stroke-width="2.4"/>
<polygon points="396.0,700.0 401.0,697.0 403.0,703.0 398.0,706.0" fill="#fff" stroke="#1c1c1c" stroke-width="1" stroke-linejoin="round"/>
<polygon points="347.8,696.3 352.8,690.4 361.7,688.7 388.4,697.3 399.3,707.7 405.2,716.6 409.2,733.5 410.2,744.4 407.2,751.3 399.3,756.2 392.4,755.2 359.7,743.4 345.8,725.5 344.9,709.7" fill="#fff" stroke="#1c1c1c" stroke-width="1.2" stroke-linejoin="round"/>
<polyline points="348.0,699.0 372.0,705.0 388.4,711.0 399.3,707.7" fill="none" stroke="#1c1c1c" stroke-width="1.0" stroke-linejoin="round" stroke-linecap="round"/>
<polyline points="352.8,690.4 358.0,698.0" fill="none" stroke="#1c1c1c" stroke-width="0.9" stroke-linejoin="round" stroke-linecap="round"/>
<polyline points="388.4,697.3 393.0,709.0" fill="none" stroke="#1c1c1c" stroke-width="0.9" stroke-linejoin="round" stroke-linecap="round"/>
<polyline points="348.0,699.0 346.0,712.0 347.0,724.0" fill="none" stroke="#1c1c1c" stroke-width="0.9" stroke-linejoin="round" stroke-linecap="round"/>
<ellipse cx="364.7" cy="694.9" rx="4.6" ry="3.0" transform="rotate(12 364.7 694.9)" fill="#fff" stroke="#1c1c1c" stroke-width="1.1"/>
<ellipse cx="378.5" cy="698.3" rx="4.6" ry="3.0" transform="rotate(12 378.5 698.3)" fill="#fff" stroke="#1c1c1c" stroke-width="1.1"/>
<path d="M354.8,712.7 Q360,706 368,707 Q382,709 390,716 Q396,722 398,730" fill="none" stroke="#1c1c1c" stroke-width="1"/>
<path d="M399.3,711 Q404,722 406,738 Q406,748 399,753" fill="none" stroke="#1c1c1c" stroke-width="0.9"/>
<polygon points="344.9,724.6 349.8,717.6 385.4,725.5 393.4,735.4 382.5,747.3 354.8,740.4" fill="#fff" stroke="#1c1c1c" stroke-width="1.1" stroke-linejoin="round"/>
<polyline points="385.4,725.5 382.5,731.0 382.5,747.3" fill="none" stroke="#1c1c1c" stroke-width="0.9" stroke-linejoin="round" stroke-linecap="round"/>
<ellipse cx="355.2" cy="734.0" rx="2.6" ry="2.0" transform="rotate(0 355.2 734.0)" fill="#fff" stroke="#1c1c1c" stroke-width="1.1"/>
<ellipse cx="369.6" cy="738.4" rx="2.3" ry="2.3" transform="rotate(0 369.6 738.4)" fill="#fff" stroke="#1c1c1c" stroke-width="1.2"/>
<ellipse cx="375.5" cy="740.4" rx="2.3" ry="2.3" transform="rotate(0 375.5 740.4)" fill="#fff" stroke="#1c1c1c" stroke-width="1.2"/>
<ellipse cx="386.8" cy="737.4" rx="3.6" ry="5.5" transform="rotate(15 386.8 737.4)" fill="#fff" stroke="#1c1c1c" stroke-width="1.1"/>
<polyline points="371.6,736.4 392.4,719.6" fill="none" stroke="#1c1c1c" stroke-width="3.8" stroke-linejoin="round" stroke-linecap="round"/>
<polyline points="371.6,736.4 392.4,719.6" fill="none" stroke="#fff" stroke-width="1.6" stroke-linejoin="round" stroke-linecap="round"/>
<ellipse cx="400.8" cy="740.4" rx="5.5" ry="5.0" transform="rotate(-20 400.8 740.4)" fill="#fff" stroke="#1c1c1c" stroke-width="1.1"/>
<polyline points="396.0,737.0 402.0,733.0" fill="none" stroke="#1c1c1c" stroke-width="0.9" stroke-linejoin="round" stroke-linecap="round"/>
<ellipse cx="405.0" cy="743.0" rx="1.8" ry="1.8" transform="rotate(0 405.0 743.0)" fill="#1c1c1c" stroke="none" stroke-width="1.0"/>
<ellipse cx="347.8" cy="699.0" rx="1.7" ry="1.7" transform="rotate(0 347.8 699.0)" fill="#1c1c1c" stroke="none" stroke-width="1.0"/>
<ellipse cx="388.4" cy="712.5" rx="1.6" ry="1.6" transform="rotate(0 388.4 712.5)" fill="#1c1c1c" stroke="none" stroke-width="1.0"/>
<ellipse cx="398.5" cy="753.5" rx="1.6" ry="1.6" transform="rotate(0 398.5 753.5)" fill="#1c1c1c" stroke="none" stroke-width="1.0"/>
<ellipse cx="405.0" cy="744.0" rx="1.4" ry="1.4" transform="rotate(0 405.0 744.0)" fill="#1c1c1c" stroke="none" stroke-width="1.0"/>
<ellipse cx="349.0" cy="707.0" rx="1.0" ry="1.0" transform="rotate(0 349.0 707.0)" fill="#1c1c1c" stroke="none" stroke-width="1.0"/>
<ellipse cx="363.0" cy="716.0" rx="1.0" ry="1.0" transform="rotate(0 363.0 716.0)" fill="#1c1c1c" stroke="none" stroke-width="1.0"/>
<ellipse cx="379.0" cy="720.0" rx="1.0" ry="1.0" transform="rotate(0 379.0 720.0)" fill="#1c1c1c" stroke="none" stroke-width="1.0"/>
<polyline points="331.0,724.5 339.0,717.0" fill="none" stroke="#1c1c1c" stroke-width="3.2" stroke-linejoin="round" stroke-linecap="round"/>
<ellipse cx="424.0" cy="749.5" rx="8.5" ry="7.5" transform="rotate(-30 424.0 749.5)" fill="#1c1c1c" stroke="#1c1c1c" stroke-width="1"/>
<ellipse cx="426.0" cy="749.0" rx="4.5" ry="5.0" transform="rotate(-30 426.0 749.0)" fill="#fff" stroke="#1c1c1c" stroke-width="1"/>
<ellipse cx="438.2" cy="752.2" rx="1.8" ry="1.8" transform="rotate(0 438.2 752.2)" fill="#fff" stroke="#1c1c1c" stroke-width="0.9"/>
<ellipse cx="450.2" cy="757.5" rx="3.8" ry="3.3" transform="rotate(-30 450.2 757.5)" fill="#1c1c1c" stroke="#1c1c1c" stroke-width="1"/>
<ellipse cx="467.0" cy="763.3" rx="4.8" ry="4.2" transform="rotate(-30 467.0 763.3)" fill="#1c1c1c" stroke="#1c1c1c" stroke-width="1"/>
<polyline points="380.0,764.5 387.0,758.5" fill="none" stroke="#1c1c1c" stroke-width="3.2" stroke-linejoin="round" stroke-linecap="round"/>
<rect x="385.5" y="764" width="4.6" height="7" rx="1.5" fill="#1c1c1c"/>
<ellipse cx="394.4" cy="773.0" rx="3.0" ry="2.2" transform="rotate(0 394.4 773.0)" fill="#1c1c1c" stroke="#1c1c1c" stroke-width="1"/>
<ellipse cx="390.3" cy="777.5" rx="2.4" ry="1.8" transform="rotate(0 390.3 777.5)" fill="#fff" stroke="#1c1c1c" stroke-width="1"/>
<rect x="389" y="782" width="6" height="9.5" rx="2" fill="#1c1c1c"/>
<rect x="396.5" y="786" width="6" height="10" rx="2" fill="#1c1c1c"/>
<polyline points="390.0,784.5 394.0,784.5" fill="none" stroke="#bbb" stroke-width="0.6" stroke-linejoin="round" stroke-linecap="round"/>
<polyline points="397.5,788.5 401.5,788.5" fill="none" stroke="#bbb" stroke-width="0.6" stroke-linejoin="round" stroke-linecap="round"/>
<polyline points="390.0,787.0 394.0,787.0" fill="none" stroke="#bbb" stroke-width="0.6" stroke-linejoin="round" stroke-linecap="round"/>
<polyline points="397.5,791.0 401.5,791.0" fill="none" stroke="#bbb" stroke-width="0.6" stroke-linejoin="round" stroke-linecap="round"/>
<polyline points="390.0,789.5 394.0,789.5" fill="none" stroke="#bbb" stroke-width="0.6" stroke-linejoin="round" stroke-linecap="round"/>
<polyline points="397.5,793.5 401.5,793.5" fill="none" stroke="#bbb" stroke-width="0.6" stroke-linejoin="round" stroke-linecap="round"/>
<ellipse cx="399.5" cy="796.0" rx="3.0" ry="2.2" transform="rotate(0 399.5 796.0)" fill="#fff" stroke="#1c1c1c" stroke-width="1"/>
<ellipse cx="397.8" cy="808.0" rx="6.5" ry="5.0" transform="rotate(0 397.8 808.0)" fill="#1c1c1c" stroke="#1c1c1c" stroke-width="1"/>
<ellipse cx="397.8" cy="805.0" rx="4.5" ry="2.8" transform="rotate(0 397.8 805.0)" fill="#fff" stroke="#1c1c1c" stroke-width="0.9"/>
<polyline points="396.5,799.0 397.0,805.0" fill="none" stroke="#1c1c1c" stroke-width="1.6" stroke-linejoin="round" stroke-linecap="round"/>
<polyline points="392.0,770.0 408.0,766.5" fill="none" stroke="#1c1c1c" stroke-width="0.9" stroke-linejoin="round" stroke-linecap="round"/>
<polyline points="398.0,776.0 416.0,770.0" fill="none" stroke="#1c1c1c" stroke-width="0.9" stroke-linejoin="round" stroke-linecap="round"/>
<polyline points="394.0,781.0 414.0,775.5" fill="none" stroke="#1c1c1c" stroke-width="0.9" stroke-linejoin="round" stroke-linecap="round"/>
<polyline points="398.0,790.0 432.0,777.0" fill="none" stroke="#1c1c1c" stroke-width="0.9" stroke-linejoin="round" stroke-linecap="round"/>
<polyline points="403.0,797.0 442.0,785.0" fill="none" stroke="#1c1c1c" stroke-width="0.9" stroke-linejoin="round" stroke-linecap="round"/>
<polyline points="404.0,813.0 447.0,806.0" fill="none" stroke="#1c1c1c" stroke-width="0.9" stroke-linejoin="round" stroke-linecap="round"/>
<polyline points="408.5,765.5 446.0,805.0" fill="none" stroke="#1c1c1c" stroke-width="0.9" stroke-linejoin="round" stroke-linecap="round"/>
<polyline points="425.0,757.0 414.0,769.0" fill="none" stroke="#1c1c1c" stroke-width="0.9" stroke-linejoin="round" stroke-linecap="round"/>
<polyline points="438.0,754.0 424.0,778.0" fill="none" stroke="#1c1c1c" stroke-width="0.9" stroke-linejoin="round" stroke-linecap="round"/>
<polyline points="450.0,760.0 432.0,788.0" fill="none" stroke="#1c1c1c" stroke-width="0.9" stroke-linejoin="round" stroke-linecap="round"/>
<polyline points="467.0,767.0 447.0,803.0" fill="none" stroke="#1c1c1c" stroke-width="0.9" stroke-linejoin="round" stroke-linecap="round"/>
<polyline points="400.0,822.0 405.0,842.0" fill="none" stroke="#1c1c1c" stroke-width="4.5" stroke-linejoin="round" stroke-linecap="round"/>
<polyline points="400.0,822.0 405.0,842.0" fill="none" stroke="#fff" stroke-width="2.2" stroke-linejoin="round" stroke-linecap="round"/>
<polygon points="400.0,840.0 410.0,837.0 415.0,858.0 408.0,863.0 402.0,860.0" fill="#fff" stroke="#1c1c1c" stroke-width="1.1" stroke-linejoin="round"/>
<polygon points="389.5,858.0 404.0,855.0 414.0,857.0 428.0,854.0 430.0,866.0 420.0,868.0 393.0,872.0" fill="#fff" stroke="#1c1c1c" stroke-width="1.1" stroke-linejoin="round"/>
<polyline points="213.2,823.2 323.2,726.4" fill="none" stroke="#1c1c1c" stroke-width="1.1" stroke-linejoin="round" stroke-linecap="round"/>
<polyline points="216.5,826.5 327.6,728.6" fill="none" stroke="#1c1c1c" stroke-width="1.1" stroke-linejoin="round" stroke-linecap="round"/>
<polyline points="306.0,747.0 325.0,730.0" fill="none" stroke="#1c1c1c" stroke-width="4" stroke-linejoin="round" stroke-linecap="round"/>
<polyline points="306.0,747.0 325.0,730.0" fill="none" stroke="#fff" stroke-width="1.6" stroke-linejoin="round" stroke-linecap="round"/>
<polyline points="310.0,749.5 329.0,732.5" fill="none" stroke="#1c1c1c" stroke-width="4" stroke-linejoin="round" stroke-linecap="round"/>
<polyline points="310.0,749.5 329.0,732.5" fill="none" stroke="#fff" stroke-width="1.6" stroke-linejoin="round" stroke-linecap="round"/>
<polyline points="313.0,731.0 318.0,728.0 320.0,733.0" fill="none" stroke="#1c1c1c" stroke-width="1.0" stroke-linejoin="round" stroke-linecap="round"/>
<polyline points="356.0,787.0 376.0,769.0" fill="none" stroke="#1c1c1c" stroke-width="4" stroke-linejoin="round" stroke-linecap="round"/>
<polyline points="356.0,787.0 376.0,769.0" fill="none" stroke="#fff" stroke-width="1.6" stroke-linejoin="round" stroke-linecap="round"/>
<polyline points="213.2,823.2 270.4,772.6" fill="none" stroke="#1c1c1c" stroke-width="1.0" stroke-linejoin="round" stroke-linecap="round"/>
<path d="M270.4,772.6 Q283,765 296,768.5 Q316,776 325,792 Q329,808 323,823" fill="none" stroke="#1c1c1c" stroke-width="1.0"/>
<polyline points="256.0,837.5 290.0,808.0" fill="none" stroke="#1c1c1c" stroke-width="1.0" stroke-linejoin="round" stroke-linecap="round"/>
<polyline points="265.0,845.0 296.0,818.0" fill="none" stroke="#1c1c1c" stroke-width="1.0" stroke-linejoin="round" stroke-linecap="round"/>
<polyline points="266.0,876.0 336.4,814.4" fill="none" stroke="#1c1c1c" stroke-width="1.1" stroke-linejoin="round" stroke-linecap="round"/>
<polyline points="268.0,882.6 341.0,819.0" fill="none" stroke="#1c1c1c" stroke-width="1.1" stroke-linejoin="round" stroke-linecap="round"/>
<polyline points="322.0,818.0 346.0,797.0" fill="none" stroke="#1c1c1c" stroke-width="1.0" stroke-linejoin="round" stroke-linecap="round"/>
<path d="M307.8,753 Q312,742 322,736 Q334,731 346,736 Q360,744 363.9,757 Q366,770 358,780 Q348,790 338,790 Q322,788 313,778 Q305,766 307.8,753 Z" fill="#1c1c1c" stroke="#1c1c1c" stroke-width="1"/>
<ellipse cx="313.0" cy="754.0" rx="1.3" ry="1.0" transform="rotate(0 313.0 754.0)" fill="#fff" stroke="none" stroke-width="1.0"/>
<ellipse cx="328.0" cy="769.0" rx="2.2" ry="1.8" transform="rotate(0 328.0 769.0)" fill="#fff" stroke="none" stroke-width="1.0"/>
<ellipse cx="332.0" cy="768.0" rx="1.2" ry="1.0" transform="rotate(0 332.0 768.0)" fill="#fff" stroke="none" stroke-width="1.0"/>
<ellipse cx="334.0" cy="777.0" rx="1.6" ry="1.3" transform="rotate(0 334.0 777.0)" fill="#fff" stroke="none" stroke-width="1.0"/>
<ellipse cx="343.0" cy="774.0" rx="1.2" ry="1.0" transform="rotate(0 343.0 774.0)" fill="#fff" stroke="none" stroke-width="1.0"/>
<ellipse cx="358.0" cy="757.0" rx="1.0" ry="0.8" transform="rotate(0 358.0 757.0)" fill="#fff" stroke="none" stroke-width="1.0"/>
<ellipse cx="353.0" cy="779.0" rx="1.2" ry="1.0" transform="rotate(0 353.0 779.0)" fill="#fff" stroke="none" stroke-width="1.0"/>
<ellipse cx="342.0" cy="795.0" rx="1.8" ry="1.8" transform="rotate(0 342.0 795.0)" fill="#fff" stroke="#1c1c1c" stroke-width="1"/>
<polygon points="339.0,803.0 345.0,799.0 351.5,801.0 352.0,809.0 346.0,814.0 339.5,811.0" fill="#fff" stroke="#1c1c1c" stroke-width="1.1" stroke-linejoin="round"/>
<ellipse cx="345.5" cy="804.0" rx="3.5" ry="2.5" transform="rotate(0 345.5 804.0)" fill="#1c1c1c" stroke="none" stroke-width="1.0"/>
<polyline points="339.5,808.0 352.0,807.0" fill="none" stroke="#1c1c1c" stroke-width="0.8" stroke-linejoin="round" stroke-linecap="round"/>
<polygon points="354.0,806.0 360.0,803.0 365.0,805.0 365.0,815.0 359.0,819.0 354.0,816.0" fill="#fff" stroke="#1c1c1c" stroke-width="1.1" stroke-linejoin="round"/>
<polyline points="354.0,810.0 365.0,809.0" fill="none" stroke="#1c1c1c" stroke-width="0.8" stroke-linejoin="round" stroke-linecap="round"/>
<polyline points="354.0,813.0 365.0,812.0" fill="none" stroke="#1c1c1c" stroke-width="0.8" stroke-linejoin="round" stroke-linecap="round"/>
<ellipse cx="359.5" cy="806.0" rx="3.0" ry="2.0" transform="rotate(0 359.5 806.0)" fill="#555" stroke="none" stroke-width="1.0"/>
<defs><pattern id="spk" width="4.3" height="4.3" patternUnits="userSpaceOnUse" patternTransform="rotate(30)"><rect width="4.3" height="4.3" fill="#222"/><circle cx="1.1" cy="1.2" r="1.05" fill="#eee"/><circle cx="3.2" cy="3.1" r="0.8" fill="#ddd"/></pattern></defs>
<path d="M245.1,801.2 Q258,786 272.6,783.6 Q290,784 299,792.4 Q308,802 310,816.6 Q311,830 307.8,840.8 L292.4,849.6 Q292,838 290.2,829.8 Q282,814 266,805.6 Z" fill="url(#spk)" stroke="#1c1c1c" stroke-width="1"/>
<polyline points="245.1,801.2 266.0,805.6" fill="none" stroke="#1c1c1c" stroke-width="2" stroke-linejoin="round" stroke-linecap="round"/>
<polyline points="299.0,807.0 306.0,800.0 310.0,797.0" fill="none" stroke="#1c1c1c" stroke-width="0.9" stroke-linejoin="round" stroke-linecap="round"/>
<ellipse cx="312.0" cy="793.0" rx="1.8" ry="2.2" transform="rotate(0 312.0 793.0)" fill="#1c1c1c" stroke="none" stroke-width="1.0"/>
<ellipse cx="318.8" cy="821.0" rx="2.5" ry="2.5" transform="rotate(0 318.8 821.0)" fill="#1c1c1c" stroke="none" stroke-width="1.0"/>
<path d="M213,823 Q236,826 255,836 Q262,850 266,874 Q264,882 258,883" fill="none" stroke="#1c1c1c" stroke-width="1.2"/>
<path d="M210,826 Q206,850 214,866 Q232,880 258,883" fill="none" stroke="#1c1c1c" stroke-width="1.0"/>
<polyline points="255.0,836.0 260.0,833.0" fill="none" stroke="#1c1c1c" stroke-width="1.0" stroke-linejoin="round" stroke-linecap="round"/>
<ellipse cx="224.0" cy="828.0" rx="1.7" ry="1.4" transform="rotate(0 224.0 828.0)" fill="#fff" stroke="#1c1c1c" stroke-width="0.9"/>
<ellipse cx="234.0" cy="832.0" rx="1.7" ry="1.4" transform="rotate(0 234.0 832.0)" fill="#fff" stroke="#1c1c1c" stroke-width="0.9"/>
<ellipse cx="244.0" cy="835.0" rx="1.7" ry="1.4" transform="rotate(0 244.0 835.0)" fill="#fff" stroke="#1c1c1c" stroke-width="0.9"/>
<ellipse cx="252.0" cy="846.0" rx="1.7" ry="1.4" transform="rotate(0 252.0 846.0)" fill="#fff" stroke="#1c1c1c" stroke-width="0.9"/>
<ellipse cx="256.0" cy="856.0" rx="1.7" ry="1.4" transform="rotate(0 256.0 856.0)" fill="#fff" stroke="#1c1c1c" stroke-width="0.9"/>
<ellipse cx="258.0" cy="866.0" rx="1.7" ry="1.4" transform="rotate(0 258.0 866.0)" fill="#fff" stroke="#1c1c1c" stroke-width="0.9"/>
<ellipse cx="259.0" cy="874.0" rx="1.7" ry="1.4" transform="rotate(0 259.0 874.0)" fill="#fff" stroke="#1c1c1c" stroke-width="0.9"/>
<ellipse cx="227.0" cy="840.0" rx="1.7" ry="1.4" transform="rotate(0 227.0 840.0)" fill="#fff" stroke="#1c1c1c" stroke-width="0.9"/>
<ellipse cx="218.0" cy="832.0" rx="1.7" ry="1.4" transform="rotate(0 218.0 832.0)" fill="#fff" stroke="#1c1c1c" stroke-width="0.9"/>
<ellipse cx="229.0" cy="864.0" rx="15.0" ry="7.5" transform="rotate(50 229.0 864.0)" fill="url(#spk)" stroke="#1c1c1c" stroke-width="1.2"/>
<ellipse cx="229.0" cy="864.0" rx="8.0" ry="3.5" transform="rotate(50 229.0 864.0)" fill="#fff" stroke="none" stroke-width="1.0"/>
<path d="M191,851 Q190,840 203,839 L236,850 Q247,856 251,868 L254,884 Q255,896 244,894 L214,879 Q194,866 191,851 Z" fill="none" stroke="#1c1c1c" stroke-width="6.5" stroke-linejoin="round"/>
<ellipse cx="196.0" cy="858.0" rx="3.5" ry="3.5" transform="rotate(0 196.0 858.0)" fill="#1c1c1c" stroke="none" stroke-width="1.0"/>
<ellipse cx="226.0" cy="888.0" rx="3.8" ry="3.8" transform="rotate(0 226.0 888.0)" fill="#1c1c1c" stroke="none" stroke-width="1.0"/>
<ellipse cx="248.0" cy="890.0" rx="3.5" ry="3.5" transform="rotate(0 248.0 890.0)" fill="#1c1c1c" stroke="none" stroke-width="1.0"/>
<ellipse cx="205.0" cy="842.0" rx="3.0" ry="3.0" transform="rotate(0 205.0 842.0)" fill="#1c1c1c" stroke="none" stroke-width="1.0"/>
<ellipse cx="250.0" cy="872.0" rx="2.8" ry="2.8" transform="rotate(0 250.0 872.0)" fill="#1c1c1c" stroke="none" stroke-width="1.0"/>
<ellipse cx="208.0" cy="846.0" rx="1.8" ry="1.8" transform="rotate(0 208.0 846.0)" fill="#fff" stroke="none" stroke-width="1.0"/>
<ellipse cx="230.0" cy="851.0" rx="1.8" ry="1.8" transform="rotate(0 230.0 851.0)" fill="#fff" stroke="none" stroke-width="1.0"/>
<ellipse cx="242.0" cy="862.0" rx="1.8" ry="1.8" transform="rotate(0 242.0 862.0)" fill="#fff" stroke="none" stroke-width="1.0"/>
<ellipse cx="238.0" cy="892.0" rx="1.8" ry="1.8" transform="rotate(0 238.0 892.0)" fill="#fff" stroke="none" stroke-width="1.0"/>
<ellipse cx="218.0" cy="876.0" rx="1.8" ry="1.8" transform="rotate(0 218.0 876.0)" fill="#fff" stroke="none" stroke-width="1.0"/>
<ellipse cx="199.0" cy="850.0" rx="1.8" ry="1.8" transform="rotate(0 199.0 850.0)" fill="#fff" stroke="none" stroke-width="1.0"/>
<polyline points="187.0,846.0 229.5,852.8" fill="none" stroke="#1c1c1c" stroke-width="1.0" stroke-linejoin="round" stroke-linecap="round"/>
<polyline points="187.0,846.0 189.0,851.0" fill="none" stroke="#1c1c1c" stroke-width="1.0" stroke-linejoin="round" stroke-linecap="round"/>
<polyline points="185.0,850.0 196.0,843.0" fill="none" stroke="#1c1c1c" stroke-width="1" stroke-linejoin="round" stroke-linecap="round"/>
<polygon points="162.3,870.4 172.8,863.4 204.5,874.0 209.8,877.5 215.1,895.0 225.6,912.7 223.9,923.2 216.0,929.4 172.8,912.7 164.0,898.6" fill="#fff" stroke="#1c1c1c" stroke-width="1.2" stroke-linejoin="round"/>
<polyline points="164.0,872.0 204.0,885.0 210.0,878.0" fill="none" stroke="#1c1c1c" stroke-width="1.0" stroke-linejoin="round" stroke-linecap="round"/>
<polyline points="204.0,885.0 214.0,905.0 225.6,912.7" fill="none" stroke="#1c1c1c" stroke-width="1.0" stroke-linejoin="round" stroke-linecap="round"/>
<polygon points="172.8,898.6 190.4,888.0 202.7,896.8 204.5,914.4 188.7,923.2 174.6,916.2" fill="#fff" stroke="#1c1c1c" stroke-width="1.1" stroke-linejoin="round"/>
<polyline points="190.4,888.0 192.0,906.0 204.5,914.4" fill="none" stroke="#1c1c1c" stroke-width="1.0" stroke-linejoin="round" stroke-linecap="round"/>
<polyline points="174.6,916.2 192.0,906.0" fill="none" stroke="#1c1c1c" stroke-width="1.0" stroke-linejoin="round" stroke-linecap="round"/>
<ellipse cx="182.0" cy="905.0" rx="3.0" ry="4.0" transform="rotate(-20 182.0 905.0)" fill="#fff" stroke="#1c1c1c" stroke-width="1"/>
<ellipse cx="199.0" cy="910.0" rx="2.2" ry="3.2" transform="rotate(-20 199.0 910.0)" fill="#fff" stroke="#1c1c1c" stroke-width="1"/>
<ellipse cx="186.0" cy="896.0" rx="2.0" ry="2.0" transform="rotate(0 186.0 896.0)" fill="#fff" stroke="#1c1c1c" stroke-width="0.9"/>
<ellipse cx="205.0" cy="883.0" rx="2.0" ry="2.0" transform="rotate(0 205.0 883.0)" fill="#1c1c1c" stroke="none" stroke-width="1.0"/>
<ellipse cx="184.0" cy="879.0" rx="3.0" ry="3.0" transform="rotate(0 184.0 879.0)" fill="#1c1c1c" stroke="none" stroke-width="1.0"/>
<ellipse cx="215.0" cy="925.0" rx="1.5" ry="1.5" transform="rotate(0 215.0 925.0)" fill="#1c1c1c" stroke="none" stroke-width="1.0"/>
<polyline points="168.0,896.0 186.0,882.0" fill="none" stroke="#1c1c1c" stroke-width="6.5" stroke-linejoin="round" stroke-linecap="round"/>
<polyline points="172.0,893.0 183.0,885.0" fill="none" stroke="#888" stroke-width="2" stroke-linejoin="round" stroke-linecap="round"/>
<ellipse cx="164.5" cy="898.0" rx="3.0" ry="3.5" transform="rotate(-30 164.5 898.0)" fill="#fff" stroke="#1c1c1c" stroke-width="1.1"/>
<ellipse cx="189.0" cy="883.0" rx="3.5" ry="3.8" transform="rotate(0 189.0 883.0)" fill="#1c1c1c" stroke="none" stroke-width="1.0"/>
<polyline points="211.5,912.7 241.5,923.2" fill="none" stroke="#1c1c1c" stroke-width="7.5" stroke-linejoin="round" stroke-linecap="round"/>
<polygon points="241.5,918.0 252.0,920.0 258.0,924.0 256.0,931.0 248.0,930.0 241.5,928.0" fill="#fff" stroke="#1c1c1c" stroke-width="1.1" stroke-linejoin="round"/>
<ellipse cx="255.5" cy="925.5" rx="3.5" ry="4.5" transform="rotate(10 255.5 925.5)" fill="#fff" stroke="#1c1c1c" stroke-width="1.1"/>
<polyline points="201.0,939.0 207.0,935.0" fill="none" stroke="#1c1c1c" stroke-width="3.5" stroke-linejoin="round" stroke-linecap="round"/>
<polyline points="212.0,937.0 213.0,944.0" fill="none" stroke="#1c1c1c" stroke-width="3.5" stroke-linejoin="round" stroke-linecap="round"/>
<ellipse cx="214.0" cy="945.0" rx="2.2" ry="2.0" transform="rotate(0 214.0 945.0)" fill="#fff" stroke="#1c1c1c" stroke-width="1"/>
<polyline points="205.0,868.0 207.0,866.0" fill="none" stroke="#1c1c1c" stroke-width="2" stroke-linejoin="round" stroke-linecap="round"/>
<polygon points="61.1,920.1 80.9,903.6 144.7,923.4 126.0,941.0" fill="#fff" stroke="#1c1c1c" stroke-width="1.1" stroke-linejoin="round"/>
<polygon points="61.1,920.1 126.0,941.0 125.0,948.7 62.2,929.0" fill="#fff" stroke="#1c1c1c" stroke-width="1.1" stroke-linejoin="round"/>
<polyline points="126.0,941.0 144.7,923.4 145.0,930.0 125.0,948.7" fill="none" stroke="#1c1c1c" stroke-width="1.1" stroke-linejoin="round" stroke-linecap="round"/>
<ellipse cx="124.9" cy="931.1" rx="4.2" ry="3.0" transform="rotate(-10 124.9 931.1)" fill="#fff" stroke="#1c1c1c" stroke-width="1"/>
<polygon points="134.8,932.2 161.2,911.3 174.4,916.8 178.8,925.6 166.0,938.0 158.0,946.0 154.0,952.0 137.0,947.6 138.0,941.0" fill="#1c1c1c" stroke="#1c1c1c" stroke-width="1" stroke-linejoin="round"/>
<ellipse cx="146.5" cy="936.0" rx="2.3" ry="1.4" transform="rotate(-20 146.5 936.0)" fill="#fff" stroke="none" stroke-width="1.0"/>
<ellipse cx="148.0" cy="946.0" rx="2.3" ry="1.4" transform="rotate(-20 148.0 946.0)" fill="#fff" stroke="none" stroke-width="1.0"/>
<polyline points="137.0,947.6 142.0,951.0 154.0,952.0" fill="none" stroke="#1c1c1c" stroke-width="1.2" stroke-linejoin="round" stroke-linecap="round"/>
<polygon points="145.0,959.0 151.0,955.0 159.0,957.0 160.5,964.0 155.0,970.0 147.0,969.0 144.5,964.0" fill="#fff" stroke="#1c1c1c" stroke-width="1.2" stroke-linejoin="round"/>
<ellipse cx="152.5" cy="962.0" rx="4.5" ry="4.0" transform="rotate(0 152.5 962.0)" fill="#1c1c1c" stroke="#1c1c1c" stroke-width="1"/>
<ellipse cx="152.5" cy="962.0" rx="2.2" ry="1.8" transform="rotate(0 152.5 962.0)" fill="#666" stroke="none" stroke-width="1.0"/>
<polygon points="129.7,893.0 134.0,889.0 141.0,889.5 143.8,894.0 141.0,899.0 134.0,900.4" fill="#fff" stroke="#1c1c1c" stroke-width="1.1" stroke-linejoin="round"/>
<polyline points="137.5,900.0 141.5,912.0" fill="none" stroke="#1c1c1c" stroke-width="6.5" stroke-linejoin="round" stroke-linecap="round"/>
<polyline points="138.0,902.0 141.0,910.0" fill="none" stroke="#666" stroke-width="1" stroke-linejoin="round" stroke-linecap="round"/>
<polygon points="146.4,893.0 152.0,888.5 158.0,891.0 158.7,897.0 153.0,902.0 147.5,900.0" fill="#fff" stroke="#1c1c1c" stroke-width="1.1" stroke-linejoin="round"/>
<ellipse cx="153.0" cy="895.5" rx="3.0" ry="3.0" transform="rotate(0 153.0 895.5)" fill="#1c1c1c" stroke="#1c1c1c" stroke-width="0.8"/>
<ellipse cx="155.0" cy="909.0" rx="3.5" ry="3.5" transform="rotate(0 155.0 909.0)" fill="#fff" stroke="#1c1c1c" stroke-width="1.1"/>
<ellipse cx="155.0" cy="909.0" rx="1.8" ry="1.8" transform="rotate(0 155.0 909.0)" fill="#555" stroke="none" stroke-width="1.0"/>
<polyline points="153.0,883.0 157.0,880.0" fill="none" stroke="#1c1c1c" stroke-width="3" stroke-linejoin="round" stroke-linecap="round"/>
<ellipse cx="163.0" cy="899.0" rx="3.0" ry="3.0" transform="rotate(0 163.0 899.0)" fill="#fff" stroke="#1c1c1c" stroke-width="1"/>
<polyline points="577.0,601.0 545.0,573.0" fill="none" stroke="#1c1c1c" stroke-width="0.9" stroke-linejoin="round" stroke-linecap="round"/>
<polyline points="577.0,601.0 556.0,578.0" fill="none" stroke="#1c1c1c" stroke-width="0.9" stroke-linejoin="round" stroke-linecap="round"/>
<polyline points="329.5,857.0 296.0,846.0" fill="none" stroke="#1c1c1c" stroke-width="0.9" stroke-linejoin="round" stroke-linecap="round"/>
</g>
<g>
<line x1="479.0" y1="227.1" x2="474.0" y2="226.0" stroke="#1c1c1c" stroke-width="1"/>
<circle cx="485.3" cy="228.4" r="6.4" fill="#fff" stroke="#1c1c1c" stroke-width="1.25"/>
<text x="485.3" y="231.5" text-anchor="middle" font-size="8.6" font-weight="bold">30</text>
<line x1="322.9" y1="283.3" x2="350.0" y2="291.0" stroke="#1c1c1c" stroke-width="1"/>
<circle cx="316.7" cy="281.5" r="6.4" fill="#fff" stroke="#1c1c1c" stroke-width="1.25"/>
<text x="316.7" y="284.6" text-anchor="middle" font-size="8.6" font-weight="bold">7</text>
<line x1="666.2" y1="380.1" x2="682.0" y2="391.8" stroke="#1c1c1c" stroke-width="1"/>
<circle cx="661.1" cy="376.3" r="6.4" fill="#fff" stroke="#1c1c1c" stroke-width="1.25"/>
<text x="661.1" y="379.4" text-anchor="middle" font-size="8.6" font-weight="bold">1</text>
<line x1="657.4" y1="413.7" x2="686.0" y2="425.7" stroke="#1c1c1c" stroke-width="1"/>
<circle cx="651.5" cy="411.2" r="6.4" fill="#fff" stroke="#1c1c1c" stroke-width="1.25"/>
<text x="651.5" y="414.3" text-anchor="middle" font-size="8.6" font-weight="bold">24</text>
<line x1="554.3" y1="493.3" x2="575.8" y2="506.0" stroke="#1c1c1c" stroke-width="1"/>
<circle cx="548.8" cy="490.0" r="6.4" fill="#fff" stroke="#1c1c1c" stroke-width="1.25"/>
<text x="548.8" y="493.1" text-anchor="middle" font-size="8.6" font-weight="bold">21</text>
<line x1="501.8" y1="549.6" x2="529.0" y2="569.0" stroke="#1c1c1c" stroke-width="1"/>
<circle cx="496.6" cy="545.9" r="6.4" fill="#fff" stroke="#1c1c1c" stroke-width="1.25"/>
<text x="496.6" y="549.0" text-anchor="middle" font-size="8.6" font-weight="bold">22</text>
<line x1="459.4" y1="572.6" x2="500.0" y2="603.0" stroke="#1c1c1c" stroke-width="1"/>
<circle cx="454.3" cy="568.8" r="6.4" fill="#fff" stroke="#1c1c1c" stroke-width="1.25"/>
<text x="454.3" y="571.9" text-anchor="middle" font-size="8.6" font-weight="bold">42</text>
<line x1="604.1" y1="560.8" x2="582.0" y2="540.5" stroke="#1c1c1c" stroke-width="1"/>
<circle cx="608.8" cy="565.1" r="6.4" fill="#fff" stroke="#1c1c1c" stroke-width="1.25"/>
<text x="608.8" y="568.2" text-anchor="middle" font-size="8.6" font-weight="bold">9</text>
<line x1="544.7" y1="621.9" x2="526.0" y2="586.0" stroke="#1c1c1c" stroke-width="1"/>
<circle cx="547.7" cy="627.6" r="6.4" fill="#fff" stroke="#1c1c1c" stroke-width="1.25"/>
<text x="547.7" y="630.7" text-anchor="middle" font-size="8.6" font-weight="bold">56</text>
<line x1="462.1" y1="675.7" x2="456.0" y2="643.0" stroke="#1c1c1c" stroke-width="1"/>
<circle cx="463.3" cy="682.0" r="6.4" fill="#fff" stroke="#1c1c1c" stroke-width="1.25"/>
<text x="463.3" y="685.1" text-anchor="middle" font-size="8.6" font-weight="bold">20</text>
<line x1="737.1" y1="319.7" x2="743.0" y2="369.5" stroke="#1c1c1c" stroke-width="1"/>
<circle cx="736.3" cy="313.3" r="6.4" fill="#fff" stroke="#1c1c1c" stroke-width="1.25"/>
<text x="736.3" y="316.4" text-anchor="middle" font-size="8.6" font-weight="bold">55</text>
<line x1="782.6" y1="314.8" x2="763.6" y2="306.0" stroke="#1c1c1c" stroke-width="1"/>
<circle cx="788.4" cy="317.5" r="6.4" fill="#fff" stroke="#1c1c1c" stroke-width="1.25"/>
<text x="788.4" y="320.6" text-anchor="middle" font-size="8.6" font-weight="bold">44</text>
<line x1="726.1" y1="357.1" x2="730.9" y2="380.4" stroke="#1c1c1c" stroke-width="1"/>
<circle cx="724.8" cy="350.8" r="6.4" fill="#fff" stroke="#1c1c1c" stroke-width="1.25"/>
<text x="724.8" y="353.9" text-anchor="middle" font-size="8.6" font-weight="bold">56</text>
<line x1="800.7" y1="350.5" x2="779.3" y2="349.6" stroke="#1c1c1c" stroke-width="1"/>
<circle cx="807.1" cy="350.8" r="6.4" fill="#fff" stroke="#1c1c1c" stroke-width="1.25"/>
<text x="807.1" y="353.9" text-anchor="middle" font-size="8.6" font-weight="bold">28</text>
<line x1="792.3" y1="374.9" x2="781.7" y2="375.6" stroke="#1c1c1c" stroke-width="1"/>
<circle cx="798.7" cy="374.4" r="6.4" fill="#fff" stroke="#1c1c1c" stroke-width="1.25"/>
<text x="798.7" y="377.5" text-anchor="middle" font-size="8.6" font-weight="bold">54</text>
<line x1="815.3" y1="408.2" x2="799.5" y2="401.4" stroke="#1c1c1c" stroke-width="1"/>
<circle cx="821.2" cy="410.7" r="6.4" fill="#fff" stroke="#1c1c1c" stroke-width="1.25"/>
<text x="821.2" y="413.8" text-anchor="middle" font-size="8.6" font-weight="bold">25</text>
<circle cx="749.2" cy="432.3" r="6.4" fill="#fff" stroke="#1c1c1c" stroke-width="1.25"/>
<text x="749.2" y="435.4" text-anchor="middle" font-size="8.6" font-weight="bold">26</text>
<line x1="786.3" y1="441.9" x2="789.0" y2="429.0" stroke="#1c1c1c" stroke-width="1"/>
<circle cx="785.0" cy="448.2" r="6.4" fill="#fff" stroke="#1c1c1c" stroke-width="1.25"/>
<text x="785.0" y="451.3" text-anchor="middle" font-size="8.6" font-weight="bold">37</text>
<line x1="733.5" y1="451.3" x2="731.0" y2="425.7" stroke="#1c1c1c" stroke-width="1"/>
<circle cx="734.1" cy="457.7" r="6.4" fill="#fff" stroke="#1c1c1c" stroke-width="1.25"/>
<text x="734.1" y="460.8" text-anchor="middle" font-size="8.6" font-weight="bold">45</text>
<circle cx="583.5" cy="605.0" r="6.4" fill="#fff" stroke="#1c1c1c" stroke-width="1.25"/>
<text x="583.5" y="608.1" text-anchor="middle" font-size="8.6" font-weight="bold">27</text>
<line x1="390.5" y1="629.2" x2="368.4" y2="632.4" stroke="#1c1c1c" stroke-width="1"/>
<circle cx="396.8" cy="628.3" r="6.4" fill="#fff" stroke="#1c1c1c" stroke-width="1.25"/>
<text x="396.8" y="631.4" text-anchor="middle" font-size="8.6" font-weight="bold">34</text>
<line x1="310.9" y1="634.0" x2="350.6" y2="654.8" stroke="#1c1c1c" stroke-width="1"/>
<circle cx="305.2" cy="631.0" r="6.4" fill="#fff" stroke="#1c1c1c" stroke-width="1.25"/>
<text x="305.2" y="634.1" text-anchor="middle" font-size="8.6" font-weight="bold">33</text>
<line x1="423.4" y1="647.8" x2="440.0" y2="660.0" stroke="#1c1c1c" stroke-width="1"/>
<circle cx="418.2" cy="644.0" r="6.4" fill="#fff" stroke="#1c1c1c" stroke-width="1.25"/>
<text x="418.2" y="647.1" text-anchor="middle" font-size="8.6" font-weight="bold">58</text>
<line x1="316.6" y1="651.1" x2="359.0" y2="674.2" stroke="#1c1c1c" stroke-width="1"/>
<circle cx="311.0" cy="648.0" r="6.4" fill="#fff" stroke="#1c1c1c" stroke-width="1.25"/>
<text x="311.0" y="651.1" text-anchor="middle" font-size="8.6" font-weight="bold">32</text>
<line x1="404.8" y1="675.0" x2="402.9" y2="682.6" stroke="#1c1c1c" stroke-width="1"/>
<circle cx="406.4" cy="668.8" r="6.4" fill="#fff" stroke="#1c1c1c" stroke-width="1.25"/>
<text x="406.4" y="671.9" text-anchor="middle" font-size="8.6" font-weight="bold">59</text>
<line x1="307.4" y1="676.1" x2="349.6" y2="700.3" stroke="#1c1c1c" stroke-width="1"/>
<circle cx="301.9" cy="672.9" r="6.4" fill="#fff" stroke="#1c1c1c" stroke-width="1.25"/>
<text x="301.9" y="676.0" text-anchor="middle" font-size="8.6" font-weight="bold">31</text>
<line x1="342.7" y1="679.3" x2="362.1" y2="715.0" stroke="#1c1c1c" stroke-width="1"/>
<circle cx="339.6" cy="673.7" r="6.4" fill="#fff" stroke="#1c1c1c" stroke-width="1.25"/>
<text x="339.6" y="676.8" text-anchor="middle" font-size="8.6" font-weight="bold">2</text>
<line x1="335.6" y1="707.1" x2="345.4" y2="721.2" stroke="#1c1c1c" stroke-width="1"/>
<circle cx="332.0" cy="701.8" r="6.4" fill="#fff" stroke="#1c1c1c" stroke-width="1.25"/>
<text x="332.0" y="704.9" text-anchor="middle" font-size="8.6" font-weight="bold">57</text>
<line x1="311.7" y1="707.5" x2="333.9" y2="719.1" stroke="#1c1c1c" stroke-width="1"/>
<circle cx="306.0" cy="704.5" r="6.4" fill="#fff" stroke="#1c1c1c" stroke-width="1.25"/>
<text x="306.0" y="707.6" text-anchor="middle" font-size="8.6" font-weight="bold">38</text>
<line x1="455.4" y1="721.6" x2="440.5" y2="716.0" stroke="#1c1c1c" stroke-width="1"/>
<circle cx="461.4" cy="723.8" r="6.4" fill="#fff" stroke="#1c1c1c" stroke-width="1.25"/>
<text x="461.4" y="726.9" text-anchor="middle" font-size="8.6" font-weight="bold">51</text>
<line x1="415.2" y1="732.3" x2="373.6" y2="725.4" stroke="#1c1c1c" stroke-width="1"/>
<circle cx="421.5" cy="733.4" r="6.4" fill="#fff" stroke="#1c1c1c" stroke-width="1.25"/>
<text x="421.5" y="736.5" text-anchor="middle" font-size="8.6" font-weight="bold">18</text>
<line x1="299.8" y1="735.0" x2="311.0" y2="741.0" stroke="#1c1c1c" stroke-width="1"/>
<circle cx="294.2" cy="732.0" r="6.4" fill="#fff" stroke="#1c1c1c" stroke-width="1.25"/>
<text x="294.2" y="735.1" text-anchor="middle" font-size="8.6" font-weight="bold">52</text>
<line x1="258.3" y1="740.0" x2="310.0" y2="762.0" stroke="#1c1c1c" stroke-width="1"/>
<circle cx="252.4" cy="737.5" r="6.4" fill="#fff" stroke="#1c1c1c" stroke-width="1.25"/>
<text x="252.4" y="740.6" text-anchor="middle" font-size="8.6" font-weight="bold">10</text>
<circle cx="452.2" cy="809.1" r="6.4" fill="#fff" stroke="#1c1c1c" stroke-width="1.25"/>
<text x="452.2" y="812.2" text-anchor="middle" font-size="8.6" font-weight="bold">73</text>
<line x1="386.1" y1="847.8" x2="404.0" y2="853.0" stroke="#1c1c1c" stroke-width="1"/>
<circle cx="380.0" cy="846.0" r="6.4" fill="#fff" stroke="#1c1c1c" stroke-width="1.25"/>
<text x="380.0" y="849.1" text-anchor="middle" font-size="8.6" font-weight="bold">90</text>
<line x1="245.4" y1="784.5" x2="262.0" y2="793.0" stroke="#1c1c1c" stroke-width="1"/>
<circle cx="239.7" cy="781.6" r="6.4" fill="#fff" stroke="#1c1c1c" stroke-width="1.25"/>
<text x="239.7" y="784.7" text-anchor="middle" font-size="8.6" font-weight="bold">12</text>
<line x1="206.0" y1="818.5" x2="209.0" y2="838.0" stroke="#1c1c1c" stroke-width="1"/>
<circle cx="205.0" cy="812.2" r="6.4" fill="#fff" stroke="#1c1c1c" stroke-width="1.25"/>
<text x="205.0" y="815.3" text-anchor="middle" font-size="8.6" font-weight="bold">77</text>
<line x1="142.9" y1="836.9" x2="205.0" y2="884.0" stroke="#1c1c1c" stroke-width="1"/>
<circle cx="137.8" cy="833.0" r="6.4" fill="#fff" stroke="#1c1c1c" stroke-width="1.25"/>
<text x="137.8" y="836.1" text-anchor="middle" font-size="8.6" font-weight="bold">3</text>
<line x1="166.4" y1="833.9" x2="188.0" y2="853.0" stroke="#1c1c1c" stroke-width="1"/>
<circle cx="161.6" cy="829.7" r="6.4" fill="#fff" stroke="#1c1c1c" stroke-width="1.25"/>
<text x="161.6" y="832.8" text-anchor="middle" font-size="8.6" font-weight="bold">78</text>
<line x1="163.5" y1="863.8" x2="172.0" y2="884.0" stroke="#1c1c1c" stroke-width="1"/>
<circle cx="161.0" cy="857.9" r="6.4" fill="#fff" stroke="#1c1c1c" stroke-width="1.25"/>
<text x="161.0" y="861.0" text-anchor="middle" font-size="8.6" font-weight="bold">5</text>
<line x1="129.4" y1="867.3" x2="150.0" y2="892.0" stroke="#1c1c1c" stroke-width="1"/>
<circle cx="125.3" cy="862.4" r="6.4" fill="#fff" stroke="#1c1c1c" stroke-width="1.25"/>
<text x="125.3" y="865.5" text-anchor="middle" font-size="8.6" font-weight="bold">36</text>
<line x1="304.2" y1="867.1" x2="281.0" y2="851.0" stroke="#1c1c1c" stroke-width="1"/>
<circle cx="309.5" cy="870.7" r="6.4" fill="#fff" stroke="#1c1c1c" stroke-width="1.25"/>
<text x="309.5" y="873.8" text-anchor="middle" font-size="8.6" font-weight="bold">8</text>
<line x1="333.2" y1="853.2" x2="318.8" y2="821.0" stroke="#1c1c1c" stroke-width="1"/>
<circle cx="335.8" cy="859.0" r="6.4" fill="#fff" stroke="#1c1c1c" stroke-width="1.25"/>
<text x="335.8" y="862.1" text-anchor="middle" font-size="8.6" font-weight="bold">13</text>
<line x1="112.3" y1="891.0" x2="131.0" y2="894.0" stroke="#1c1c1c" stroke-width="1"/>
<circle cx="106.0" cy="890.0" r="6.4" fill="#fff" stroke="#1c1c1c" stroke-width="1.25"/>
<text x="106.0" y="893.1" text-anchor="middle" font-size="8.6" font-weight="bold">43</text>
<line x1="265.1" y1="916.2" x2="236.0" y2="903.0" stroke="#1c1c1c" stroke-width="1"/>
<circle cx="270.9" cy="918.8" r="6.4" fill="#fff" stroke="#1c1c1c" stroke-width="1.25"/>
<text x="270.9" y="921.9" text-anchor="middle" font-size="8.6" font-weight="bold">31</text>
<line x1="177.2" y1="943.8" x2="170.0" y2="935.0" stroke="#1c1c1c" stroke-width="1"/>
<circle cx="181.2" cy="948.8" r="6.4" fill="#fff" stroke="#1c1c1c" stroke-width="1.25"/>
<text x="181.2" y="951.9" text-anchor="middle" font-size="8.6" font-weight="bold">4</text>
<line x1="225.9" y1="944.9" x2="215.0" y2="944.0" stroke="#1c1c1c" stroke-width="1"/>
<circle cx="232.3" cy="945.5" r="6.4" fill="#fff" stroke="#1c1c1c" stroke-width="1.25"/>
<text x="232.3" y="948.6" text-anchor="middle" font-size="8.6" font-weight="bold">50</text>
<line x1="252.8" y1="945.6" x2="247.0" y2="925.0" stroke="#1c1c1c" stroke-width="1"/>
<circle cx="254.5" cy="951.8" r="6.4" fill="#fff" stroke="#1c1c1c" stroke-width="1.25"/>
<text x="254.5" y="954.9" text-anchor="middle" font-size="8.6" font-weight="bold">41</text>
<line x1="81.7" y1="950.6" x2="89.0" y2="924.0" stroke="#1c1c1c" stroke-width="1"/>
<circle cx="80.0" cy="956.8" r="6.4" fill="#fff" stroke="#1c1c1c" stroke-width="1.25"/>
<text x="80.0" y="959.9" text-anchor="middle" font-size="8.6" font-weight="bold">23</text>
<line x1="193.9" y1="959.0" x2="203.0" y2="939.0" stroke="#1c1c1c" stroke-width="1"/>
<circle cx="191.3" cy="964.8" r="6.4" fill="#fff" stroke="#1c1c1c" stroke-width="1.25"/>
<text x="191.3" y="967.9" text-anchor="middle" font-size="8.6" font-weight="bold">51</text>
<line x1="126.5" y1="969.2" x2="146.0" y2="964.0" stroke="#1c1c1c" stroke-width="1"/>
<circle cx="120.3" cy="970.8" r="6.4" fill="#fff" stroke="#1c1c1c" stroke-width="1.25"/>
<text x="120.3" y="973.9" text-anchor="middle" font-size="8.6" font-weight="bold">37</text>
</g>
<g fill="none" stroke="#2b3f8e" stroke-width="1.35" stroke-linecap="round" stroke-linejoin="round">
<path d="M448.4,1243.6 L450.4,1243.2 L450.4,1253.7"/>
<path d="M455.6,1245.3 Q456.5,1243.1 458.6,1243.1 Q461.3,1243.1 461.3,1245.4 Q461.3,1247.6 458.2,1247.7 Q462.2,1247.8 462.2,1250.6 Q462.2,1253.6 458.6,1253.6 Q455.9,1253.6 455,1251.3"/>
</g>
</svg>
<div class="n" style="left:310.6px;top:901.9px">1</div>
<div class="t" style="left:326.8px;top:901.9px"><span>SM TESTATA ANTERIORE</span></div>
<div class="n" style="left:310.6px;top:915.8px">2</div>
<div class="t" style="left:326.8px;top:915.8px"><span>SM TESTATA CENTRALE</span></div>
<div class="t" style="left:326.8px;top:929.7px"><span>SENZA BLOCCO</span></div>
<div class="n" style="left:310.6px;top:943.6px">3</div>
<div class="t" style="left:326.8px;top:943.6px"><span>SM TESTATA POSTERIORE</span></div>
<div class="n" style="left:310.6px;top:957.5px">4</div>
<div class="t" style="left:326.8px;top:957.5px"><span>SM FORCELLA</span></div>
<div class="n" style="left:310.6px;top:971.4px">5</div>
<div class="t" style="left:326.8px;top:971.4px"><span>SM PRESSACAVO</span></div>
<div class="n" style="left:310.6px;top:985.3px">6</div>
<div class="t" style="left:326.8px;top:985.3px"><span>SM CAVO 4x0.75 1MT</span></div>
<div class="n" style="left:310.6px;top:999.2px">7</div>
<div class="t" style="left:326.8px;top:999.2px"><span>SM CARTER CORSA</span></div>
<div class="t" style="left:326.8px;top:1013.1px"><span>295MM</span></div>
<div class="n" style="left:310.6px;top:1027.0px">8</div>
<div class="t" style="left:326.8px;top:1027.0px"><span>SM CORPO MOTORE</span></div>
<div class="n" style="left:310.6px;top:1040.9px">9</div>
<div class="t" style="left:326.8px;top:1040.9px"><span>SM ASTA CROMATA</span></div>
<div class="t" style="left:326.8px;top:1054.8px"><span>CORSA 295MM</span></div>
<div class="n" style="left:310.6px;top:1068.7px">10</div>
<div class="t" style="left:326.8px;top:1068.7px"><span>SM POMPA</span></div>
<div class="n" style="left:310.6px;top:1082.6px">11</div>
<div class="t" style="left:326.8px;top:1082.6px"><span style="transform:scaleX(0.927)">SM CONNETTORE MOTORE</span></div>
<div class="n" style="left:310.6px;top:1096.5px">12</div>
<div class="t" style="left:326.8px;top:1096.5px"><span>SM MOTORE</span></div>
<div class="n" style="left:310.6px;top:1110.4px">13</div>
<div class="t" style="left:326.8px;top:1110.4px"><span>SM N°2 SCUDI MOTORE</span></div>
<div class="n" style="left:310.6px;top:1124.3px">14</div>
<div class="t" style="left:326.8px;top:1124.3px"><span style="transform:scaleX(0.967)">SM CARTER CORSA 395MM</span></div>
<div class="n" style="left:310.6px;top:1138.2px">15</div>
<div class="t" style="left:326.8px;top:1138.2px"><span>SM CILINDRO Ø45 CORSA</span></div>
<div class="t" style="left:326.8px;top:1152.1px"><span>395MM</span></div>
<div class="n" style="left:310.6px;top:1166.0px">16</div>
<div class="t" style="left:326.8px;top:1166.0px"><span style="transform:scaleX(0.963)">SM ASTA CROMATA 395MM</span></div>
<div class="n" style="left:310.6px;top:1179.9px">17</div>
<div class="t" style="left:326.8px;top:1179.9px"><span style="transform:scaleX(0.970)">SM N° 2 CUSCINETTI 629ZZ</span></div>
<div class="n" style="left:310.6px;top:1193.8px">18</div>
<div class="t" style="left:326.8px;top:1193.8px"><span style="transform:scaleX(0.917)">SM QUADRO 20X20 PER S.L.</span></div>
<div class="n" style="left:310.6px;top:1207.7px">19</div>
<div class="t" style="left:326.8px;top:1207.7px"><span style="transform:scaleX(0.921)">SM TIRANTI CORSA 295MM</span></div>
<div class="n" style="left:494.2px;top:901.9px">20</div>
<div class="t" style="left:510.7px;top:901.9px"><span>SM TUBO OLIO CORSA</span></div>
<div class="t" style="left:510.7px;top:915.8px"><span>295MM</span></div>
<div class="n" style="left:494.2px;top:929.7px">21</div>
<div class="t" style="left:510.7px;top:929.7px"><span>SM CILINDRO Ø45 CORSA</span></div>
<div class="t" style="left:510.7px;top:943.6px"><span>295MM</span></div>
<div class="n" style="left:494.2px;top:957.5px">22</div>
<div class="t" style="left:510.7px;top:957.5px"><span>SM PISTONE Ø45</span></div>
<div class="n" style="left:494.2px;top:971.4px">23</div>
<div class="t" style="left:510.7px;top:971.4px"><span style="transform:scaleX(0.964)">SM ATTACCO POSTERIORE</span></div>
<div class="n" style="left:494.2px;top:985.3px">24</div>
<div class="t" style="left:510.7px;top:985.3px"><span>SM BUSSOLA BRONZO</span></div>
<div class="t" style="left:510.7px;top:999.2px"><span>20x25x20</span></div>
<div class="n" style="left:494.2px;top:1013.1px">25</div>
<div class="t" style="left:510.7px;top:1013.1px"><span>SM ATTACCO ANTERIORE</span></div>
<div class="n" style="left:494.2px;top:1027.0px">26</div>
<div class="t" style="left:510.7px;top:1027.0px"><span style="transform:scaleX(0.962)">SM GUARNIZIONE POLIPAC</span></div>
<div class="n" style="left:494.2px;top:1040.9px">27</div>
<div class="t" style="left:510.7px;top:1040.9px"><span style="transform:scaleX(0.928)">SM N° 2 GUARNIZIONI NA175</span></div>
<div class="n" style="left:494.2px;top:1054.8px">28</div>
<div class="t" style="left:510.7px;top:1054.8px"><span style="transform:scaleX(0.963)">SM SNODO SFERICO 12MA</span></div>
<div class="n" style="left:494.2px;top:1068.7px">29</div>
<div class="t" style="left:510.7px;top:1068.7px"><span>SM OLIO ARNICA 22 1LT</span></div>
<div class="n" style="left:494.2px;top:1082.6px">30</div>
<div class="t" style="left:510.7px;top:1082.6px"><span>SM TAPPO</span></div>
<div class="n" style="left:494.2px;top:1096.5px">31</div>
<div class="t" style="left:510.7px;top:1096.5px"><span style="transform:scaleX(0.901)">SM N° 2 GUARNIZIONI CARTA</span></div>
<div class="n" style="left:494.2px;top:1110.4px">32</div>
<div class="t" style="left:510.7px;top:1110.4px"><span style="transform:scaleX(0.944)">SM N° 2 BY PASS NYLON Ø9</span></div>
<div class="n" style="left:494.2px;top:1124.3px">33</div>
<div class="t" style="left:510.7px;top:1124.3px"><span>SM N° 2 MOLLE</span></div>
<div class="n" style="left:494.2px;top:1138.2px">34</div>
<div class="t" style="left:510.7px;top:1138.2px"><span>SM N° 2 VALVOLE Ø13</span></div>
<div class="t" style="left:510.7px;top:1152.1px"><span>REG. PRESSIONE</span></div>
<div class="n" style="left:494.2px;top:1166.0px">35</div>
<div class="t" style="left:510.7px;top:1166.0px"><span>SM CONDENSATORE 8MF</span></div>
<div class="n" style="left:494.2px;top:1179.9px">36</div>
<div class="t" style="left:510.7px;top:1179.9px"><span>SM DADO AUTOBLOCC. 8</span></div>
<div class="n" style="left:494.2px;top:1193.8px">37</div>
<div class="t" style="left:510.7px;top:1193.8px"><span style="transform:scaleX(0.876)">SM N° 2 DADI AUTOBLOCC. 12</span></div>
<div class="n" style="left:494.2px;top:1207.7px">38</div>
<div class="t" style="left:510.7px;top:1207.7px"><span>SM ALBERO MOTORE</span></div>
<div class="n" style="left:678.4px;top:901.9px">39</div>
<div class="t" style="left:694.6px;top:901.9px"><span>SM ROTORE</span></div>
<div class="n" style="left:678.4px;top:915.8px">40</div>
<div class="t" style="left:694.6px;top:915.8px"><span>SM TARGHETTA</span></div>
<div class="n" style="left:678.4px;top:929.7px">41</div>
<div class="t" style="left:694.6px;top:929.7px"><span>SM VITE TE 10x60</span></div>
<div class="n" style="left:678.4px;top:943.6px">42</div>
<div class="t" style="left:694.6px;top:943.6px"><span>SM VITE TE 12x25</span></div>
<div class="n" style="left:678.4px;top:957.5px">43</div>
<div class="t" style="left:694.6px;top:957.5px"><span>SM VITE TE 12x35</span></div>
<div class="n" style="left:678.4px;top:971.4px">44</div>
<div class="t" style="left:694.6px;top:971.4px"><span>SM VITE TE 12x60</span></div>
<div class="n" style="left:678.4px;top:985.3px">45</div>
<div class="t" style="left:694.6px;top:985.3px"><span>SM N° 4 VITI TCE 4x10</span></div>
<div class="n" style="left:678.4px;top:999.2px">46</div>
<div class="t" style="left:694.6px;top:999.2px"><span style="transform:scaleX(0.894)">SM AVVOLGIMENTO MOTORE</span></div>
<div class="n" style="left:678.4px;top:1013.1px">47</div>
<div class="t" style="left:694.6px;top:1013.1px"><span>SM N° 2 CILINDRETTI Ø8</span></div>
<div class="t" style="left:694.6px;top:1027.0px"><span>PER S.L.</span></div>
<div class="n" style="left:678.4px;top:1040.9px">48</div>
<div class="t" style="left:694.6px;top:1040.9px"><span style="transform:scaleX(0.914)">SM N° 2 MOLLE Ø6 PER S.L.</span></div>
<div class="n" style="left:678.4px;top:1054.8px">49</div>
<div class="t" style="left:694.6px;top:1054.8px"><span>SM N° 2 ESAGONI Ø12</span></div>
<div class="n" style="left:678.4px;top:1068.7px">50</div>
<div class="t" style="left:694.6px;top:1068.7px"><span>SM VITE TCE 5x10</span></div>
<div class="n" style="left:678.4px;top:1082.6px">51</div>
<div class="t" style="left:694.6px;top:1082.6px"><span>SM N° 8 VITI TCE 5x20</span></div>
<div class="n" style="left:678.4px;top:1096.5px">52</div>
<div class="t" style="left:694.6px;top:1096.5px"><span>SM N° 4 TIRANTI 4x190</span></div>
<div class="n" style="left:678.4px;top:1110.4px">53</div>
<div class="t" style="left:694.6px;top:1110.4px"><span style="transform:scaleX(0.895)">SM N° 4 DADI AUTOBLOCC. 4</span></div>
<div class="n" style="left:678.4px;top:1124.3px">54</div>
<div class="t" style="left:694.6px;top:1124.3px"><span>SM SPESSORE Ø20</span></div>
<div class="n" style="left:678.4px;top:1138.2px">55</div>
<div class="t" style="left:694.6px;top:1138.2px"><span>SM DADO BASSO M12</span></div>
<div class="n" style="left:678.4px;top:1152.1px">56</div>
<div class="t" style="left:694.6px;top:1152.1px"><span style="transform:scaleX(0.915)">SM RONDELLA GROVER Ø12</span></div>
<div class="n" style="left:678.4px;top:1166.0px">57</div>
<div class="t" style="left:694.6px;top:1166.0px"><span>SM N° 4 OR 2018</span></div>
<div class="n" style="left:678.4px;top:1179.9px">58</div>
<div class="t" style="left:694.6px;top:1179.9px"><span>SM N° 4 OR 2021</span></div>
<div class="n" style="left:678.4px;top:1193.8px">59</div>
<div class="t" style="left:694.6px;top:1193.8px"><span>SM N° 2 OR 4150</span></div>
<div class="n" style="left:678.4px;top:1207.7px">60</div>
<div class="t" style="left:694.6px;top:1207.7px"><span>SM N° 4 DADI CECHI M5</span></div>

</body></html>
